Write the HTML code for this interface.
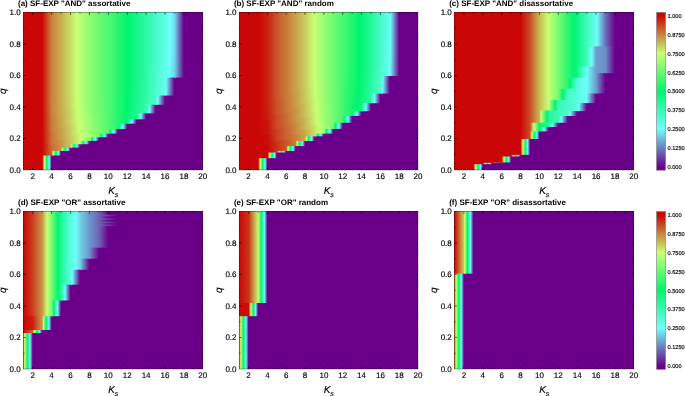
<!DOCTYPE html>
<html><head><meta charset="utf-8"><title>SF-EXP heatmaps</title>
<style>
html,body{margin:0;padding:0;background:#fff;overflow:hidden}
svg{display:block}
text{font-family:"Liberation Sans",sans-serif;fill:#000;stroke:#000;stroke-width:0.15px;text-rendering:geometricPrecision}
.t{font-size:8px}
.k{font-size:10px;font-style:italic}
.b{font-size:8px;font-weight:bold;fill:#000;stroke:none}
.c{font-size:5.7px}
</style></head><body>
<svg width="685" height="396" viewBox="0 0 685 396">
<defs><linearGradient id="g0" gradientUnits="userSpaceOnUse" x1="0" y1="0" x2="1" y2="0"><stop offset="0" stop-color="#cb0606"/><stop offset="1" stop-color="#ca823c"/></linearGradient><linearGradient id="g1" gradientUnits="userSpaceOnUse" x1="0" y1="0" x2="1" y2="0"><stop offset="0" stop-color="#cb0606"/><stop offset="1" stop-color="#ca803b"/></linearGradient><linearGradient id="g2" gradientUnits="userSpaceOnUse" x1="0" y1="0" x2="1" y2="0"><stop offset="0" stop-color="#cb0606"/><stop offset="1" stop-color="#ca7b39"/></linearGradient><linearGradient id="g3" gradientUnits="userSpaceOnUse" x1="0" y1="0" x2="1" y2="0"><stop offset="0" stop-color="#cb0606"/><stop offset="1" stop-color="#ca7436"/></linearGradient><linearGradient id="g4" gradientUnits="userSpaceOnUse" x1="0" y1="0" x2="1" y2="0"><stop offset="0" stop-color="#cb0606"/><stop offset="1" stop-color="#ca6a32"/></linearGradient><linearGradient id="g5" gradientUnits="userSpaceOnUse" x1="0" y1="0" x2="1" y2="0"><stop offset="0" stop-color="#cb0606"/><stop offset="0.25" stop-color="#c8ff73"/><stop offset="0.5" stop-color="#00f56e"/><stop offset="0.75" stop-color="#6efffa"/><stop offset="1" stop-color="#6a0089"/></linearGradient><linearGradient id="g6" gradientUnits="userSpaceOnUse" x1="0" y1="0" x2="1" y2="0"><stop offset="0" stop-color="#ca823c"/><stop offset="1" stop-color="#c9af50"/></linearGradient><linearGradient id="g7" gradientUnits="userSpaceOnUse" x1="0" y1="0" x2="1" y2="0"><stop offset="0" stop-color="#ca823c"/><stop offset="1" stop-color="#c9ac4f"/></linearGradient><linearGradient id="g8" gradientUnits="userSpaceOnUse" x1="0" y1="0" x2="1" y2="0"><stop offset="0" stop-color="#ca803b"/><stop offset="1" stop-color="#c9ac4f"/></linearGradient><linearGradient id="g9" gradientUnits="userSpaceOnUse" x1="0" y1="0" x2="1" y2="0"><stop offset="0" stop-color="#ca803b"/><stop offset="1" stop-color="#c9a74d"/></linearGradient><linearGradient id="g10" gradientUnits="userSpaceOnUse" x1="0" y1="0" x2="1" y2="0"><stop offset="0" stop-color="#ca7b39"/><stop offset="1" stop-color="#c9a74d"/></linearGradient><linearGradient id="g11" gradientUnits="userSpaceOnUse" x1="0" y1="0" x2="1" y2="0"><stop offset="0" stop-color="#ca7b39"/><stop offset="1" stop-color="#c9a04a"/></linearGradient><linearGradient id="g12" gradientUnits="userSpaceOnUse" x1="0" y1="0" x2="1" y2="0"><stop offset="0" stop-color="#ca7436"/><stop offset="1" stop-color="#c9a04a"/></linearGradient><linearGradient id="g13" gradientUnits="userSpaceOnUse" x1="0" y1="0" x2="1" y2="0"><stop offset="0" stop-color="#ca7436"/><stop offset="1" stop-color="#c99645"/></linearGradient><linearGradient id="g14" gradientUnits="userSpaceOnUse" x1="0" y1="0" x2="1" y2="0"><stop offset="0" stop-color="#ca6a32"/><stop offset="1" stop-color="#c99645"/></linearGradient><linearGradient id="g15" gradientUnits="userSpaceOnUse" x1="0" y1="0" x2="1" y2="0"><stop offset="0" stop-color="#ca6a32"/><stop offset="0.167" stop-color="#c8ff73"/><stop offset="0.444" stop-color="#00f56e"/><stop offset="0.722" stop-color="#6efffa"/><stop offset="1" stop-color="#6a0089"/></linearGradient><linearGradient id="g16" gradientUnits="userSpaceOnUse" x1="0" y1="0" x2="1" y2="0"><stop offset="0" stop-color="#c9af50"/><stop offset="1" stop-color="#c8df65"/></linearGradient><linearGradient id="g17" gradientUnits="userSpaceOnUse" x1="0" y1="0" x2="1" y2="0"><stop offset="0" stop-color="#c9af50"/><stop offset="1" stop-color="#c8dc64"/></linearGradient><linearGradient id="g18" gradientUnits="userSpaceOnUse" x1="0" y1="0" x2="1" y2="0"><stop offset="0" stop-color="#c9ac4f"/><stop offset="1" stop-color="#c8dc64"/></linearGradient><linearGradient id="g19" gradientUnits="userSpaceOnUse" x1="0" y1="0" x2="1" y2="0"><stop offset="0" stop-color="#c9ac4f"/><stop offset="1" stop-color="#c8d762"/></linearGradient><linearGradient id="g20" gradientUnits="userSpaceOnUse" x1="0" y1="0" x2="1" y2="0"><stop offset="0" stop-color="#c9a74d"/><stop offset="1" stop-color="#c8d762"/></linearGradient><linearGradient id="g21" gradientUnits="userSpaceOnUse" x1="0" y1="0" x2="1" y2="0"><stop offset="0" stop-color="#c9a74d"/><stop offset="1" stop-color="#c9d05f"/></linearGradient><linearGradient id="g22" gradientUnits="userSpaceOnUse" x1="0" y1="0" x2="1" y2="0"><stop offset="0" stop-color="#c9a04a"/><stop offset="1" stop-color="#c9d05f"/></linearGradient><linearGradient id="g23" gradientUnits="userSpaceOnUse" x1="0" y1="0" x2="1" y2="0"><stop offset="0" stop-color="#c9a04a"/><stop offset="1" stop-color="#c9c65a"/></linearGradient><linearGradient id="g24" gradientUnits="userSpaceOnUse" x1="0" y1="0" x2="1" y2="0"><stop offset="0" stop-color="#c99645"/><stop offset="1" stop-color="#c9c65a"/></linearGradient><linearGradient id="g25" gradientUnits="userSpaceOnUse" x1="0" y1="0" x2="1" y2="0"><stop offset="0" stop-color="#c99645"/><stop offset="0.123" stop-color="#c8ff73"/><stop offset="0.415" stop-color="#00f56e"/><stop offset="0.708" stop-color="#6efffa"/><stop offset="1" stop-color="#6a0089"/></linearGradient><linearGradient id="g26" gradientUnits="userSpaceOnUse" x1="0" y1="0" x2="1" y2="0"><stop offset="0" stop-color="#c8df65"/><stop offset="0.615" stop-color="#c8ff73"/><stop offset="1" stop-color="#b8fe73"/></linearGradient><linearGradient id="g27" gradientUnits="userSpaceOnUse" x1="0" y1="0" x2="1" y2="0"><stop offset="0" stop-color="#c8df65"/><stop offset="0.653" stop-color="#c8ff73"/><stop offset="1" stop-color="#bafe73"/></linearGradient><linearGradient id="g28" gradientUnits="userSpaceOnUse" x1="0" y1="0" x2="1" y2="0"><stop offset="0" stop-color="#c8dc64"/><stop offset="0.673" stop-color="#c8ff73"/><stop offset="1" stop-color="#bafe73"/></linearGradient><linearGradient id="g29" gradientUnits="userSpaceOnUse" x1="0" y1="0" x2="1" y2="0"><stop offset="0" stop-color="#c8dc64"/><stop offset="0.745" stop-color="#c8ff73"/><stop offset="1" stop-color="#beff73"/></linearGradient><linearGradient id="g30" gradientUnits="userSpaceOnUse" x1="0" y1="0" x2="1" y2="0"><stop offset="0" stop-color="#c8d762"/><stop offset="0.769" stop-color="#c8ff73"/><stop offset="1" stop-color="#beff73"/></linearGradient><linearGradient id="g31" gradientUnits="userSpaceOnUse" x1="0" y1="0" x2="1" y2="0"><stop offset="0" stop-color="#c8d762"/><stop offset="0.889" stop-color="#c8ff73"/><stop offset="1" stop-color="#c4ff73"/></linearGradient><linearGradient id="g32" gradientUnits="userSpaceOnUse" x1="0" y1="0" x2="1" y2="0"><stop offset="0" stop-color="#c9d05f"/><stop offset="0.904" stop-color="#c8ff73"/><stop offset="1" stop-color="#c4ff73"/></linearGradient><linearGradient id="g33" gradientUnits="userSpaceOnUse" x1="0" y1="0" x2="1" y2="0"><stop offset="0" stop-color="#c9d05f"/><stop offset="1" stop-color="#c8fa71"/></linearGradient><linearGradient id="g34" gradientUnits="userSpaceOnUse" x1="0" y1="0" x2="1" y2="0"><stop offset="0" stop-color="#c9c65a"/><stop offset="1" stop-color="#c8fa71"/></linearGradient><linearGradient id="g35" gradientUnits="userSpaceOnUse" x1="0" y1="0" x2="1" y2="0"><stop offset="0" stop-color="#c9c65a"/><stop offset="0.0706" stop-color="#c8ff73"/><stop offset="0.38" stop-color="#00f56e"/><stop offset="0.69" stop-color="#6efffa"/><stop offset="1" stop-color="#6a0089"/></linearGradient><linearGradient id="g36" gradientUnits="userSpaceOnUse" x1="0" y1="0" x2="1" y2="0"><stop offset="0" stop-color="#b8fe73"/><stop offset="1" stop-color="#90fc72"/></linearGradient><linearGradient id="g37" gradientUnits="userSpaceOnUse" x1="0" y1="0" x2="1" y2="0"><stop offset="0" stop-color="#b8fe73"/><stop offset="1" stop-color="#92fc72"/></linearGradient><linearGradient id="g38" gradientUnits="userSpaceOnUse" x1="0" y1="0" x2="1" y2="0"><stop offset="0" stop-color="#bafe73"/><stop offset="1" stop-color="#92fc72"/></linearGradient><linearGradient id="g39" gradientUnits="userSpaceOnUse" x1="0" y1="0" x2="1" y2="0"><stop offset="0" stop-color="#bafe73"/><stop offset="1" stop-color="#96fd72"/></linearGradient><linearGradient id="g40" gradientUnits="userSpaceOnUse" x1="0" y1="0" x2="1" y2="0"><stop offset="0" stop-color="#beff73"/><stop offset="1" stop-color="#96fd72"/></linearGradient><linearGradient id="g41" gradientUnits="userSpaceOnUse" x1="0" y1="0" x2="1" y2="0"><stop offset="0" stop-color="#beff73"/><stop offset="1" stop-color="#9cfd72"/></linearGradient><linearGradient id="g42" gradientUnits="userSpaceOnUse" x1="0" y1="0" x2="1" y2="0"><stop offset="0" stop-color="#c4ff73"/><stop offset="1" stop-color="#9cfd72"/></linearGradient><linearGradient id="g43" gradientUnits="userSpaceOnUse" x1="0" y1="0" x2="1" y2="0"><stop offset="0" stop-color="#c4ff73"/><stop offset="1" stop-color="#a4fd72"/></linearGradient><linearGradient id="g44" gradientUnits="userSpaceOnUse" x1="0" y1="0" x2="1" y2="0"><stop offset="0" stop-color="#c8fa71"/><stop offset="0.1" stop-color="#c8ff73"/><stop offset="1" stop-color="#a4fd72"/></linearGradient><linearGradient id="g45" gradientUnits="userSpaceOnUse" x1="0" y1="0" x2="1" y2="0"><stop offset="0" stop-color="#c8fa71"/><stop offset="0.00662" stop-color="#c8ff73"/><stop offset="0.338" stop-color="#00f56e"/><stop offset="0.669" stop-color="#6efffa"/><stop offset="1" stop-color="#6a0089"/></linearGradient><linearGradient id="g46" gradientUnits="userSpaceOnUse" x1="0" y1="0" x2="1" y2="0"><stop offset="0" stop-color="#90fc72"/><stop offset="1" stop-color="#6cfa71"/></linearGradient><linearGradient id="g47" gradientUnits="userSpaceOnUse" x1="0" y1="0" x2="1" y2="0"><stop offset="0" stop-color="#90fc72"/><stop offset="1" stop-color="#6efa71"/></linearGradient><linearGradient id="g48" gradientUnits="userSpaceOnUse" x1="0" y1="0" x2="1" y2="0"><stop offset="0" stop-color="#92fc72"/><stop offset="1" stop-color="#6efa71"/></linearGradient><linearGradient id="g49" gradientUnits="userSpaceOnUse" x1="0" y1="0" x2="1" y2="0"><stop offset="0" stop-color="#92fc72"/><stop offset="1" stop-color="#70fb71"/></linearGradient><linearGradient id="g50" gradientUnits="userSpaceOnUse" x1="0" y1="0" x2="1" y2="0"><stop offset="0" stop-color="#96fd72"/><stop offset="1" stop-color="#70fb71"/></linearGradient><linearGradient id="g51" gradientUnits="userSpaceOnUse" x1="0" y1="0" x2="1" y2="0"><stop offset="0" stop-color="#96fd72"/><stop offset="1" stop-color="#74fb71"/></linearGradient><linearGradient id="g52" gradientUnits="userSpaceOnUse" x1="0" y1="0" x2="1" y2="0"><stop offset="0" stop-color="#9cfd72"/><stop offset="1" stop-color="#74fb71"/></linearGradient><linearGradient id="g53" gradientUnits="userSpaceOnUse" x1="0" y1="0" x2="1" y2="0"><stop offset="0" stop-color="#9cfd72"/><stop offset="1" stop-color="#79fb71"/></linearGradient><linearGradient id="g54" gradientUnits="userSpaceOnUse" x1="0" y1="0" x2="1" y2="0"><stop offset="0" stop-color="#a4fd72"/><stop offset="1" stop-color="#79fb71"/></linearGradient><linearGradient id="g55" gradientUnits="userSpaceOnUse" x1="0" y1="0" x2="1" y2="0"><stop offset="0" stop-color="#a4fd72"/><stop offset="0.291" stop-color="#00f56e"/><stop offset="0.645" stop-color="#6efffa"/><stop offset="1" stop-color="#6a0089"/></linearGradient><linearGradient id="g56" gradientUnits="userSpaceOnUse" x1="0" y1="0" x2="1" y2="0"><stop offset="0" stop-color="#6cfa71"/><stop offset="1" stop-color="#50f970"/></linearGradient><linearGradient id="g57" gradientUnits="userSpaceOnUse" x1="0" y1="0" x2="1" y2="0"><stop offset="0" stop-color="#6cfa71"/><stop offset="1" stop-color="#51f970"/></linearGradient><linearGradient id="g58" gradientUnits="userSpaceOnUse" x1="0" y1="0" x2="1" y2="0"><stop offset="0" stop-color="#6efa71"/><stop offset="1" stop-color="#51f970"/></linearGradient><linearGradient id="g59" gradientUnits="userSpaceOnUse" x1="0" y1="0" x2="1" y2="0"><stop offset="0" stop-color="#6efa71"/><stop offset="1" stop-color="#52f970"/></linearGradient><linearGradient id="g60" gradientUnits="userSpaceOnUse" x1="0" y1="0" x2="1" y2="0"><stop offset="0" stop-color="#70fb71"/><stop offset="1" stop-color="#52f970"/></linearGradient><linearGradient id="g61" gradientUnits="userSpaceOnUse" x1="0" y1="0" x2="1" y2="0"><stop offset="0" stop-color="#70fb71"/><stop offset="1" stop-color="#54f970"/></linearGradient><linearGradient id="g62" gradientUnits="userSpaceOnUse" x1="0" y1="0" x2="1" y2="0"><stop offset="0" stop-color="#74fb71"/><stop offset="1" stop-color="#54f970"/></linearGradient><linearGradient id="g63" gradientUnits="userSpaceOnUse" x1="0" y1="0" x2="1" y2="0"><stop offset="0" stop-color="#74fb71"/><stop offset="1" stop-color="#56f970"/></linearGradient><linearGradient id="g64" gradientUnits="userSpaceOnUse" x1="0" y1="0" x2="1" y2="0"><stop offset="0" stop-color="#79fb71"/><stop offset="1" stop-color="#56f970"/></linearGradient><linearGradient id="g65" gradientUnits="userSpaceOnUse" x1="0" y1="0" x2="1" y2="0"><stop offset="0" stop-color="#79fb71"/><stop offset="0.232" stop-color="#00f56e"/><stop offset="0.616" stop-color="#6efffa"/><stop offset="1" stop-color="#6a0089"/></linearGradient><linearGradient id="g66" gradientUnits="userSpaceOnUse" x1="0" y1="0" x2="1" y2="0"><stop offset="0" stop-color="#50f970"/><stop offset="1" stop-color="#28f76f"/></linearGradient><linearGradient id="g67" gradientUnits="userSpaceOnUse" x1="0" y1="0" x2="1" y2="0"><stop offset="0" stop-color="#51f970"/><stop offset="1" stop-color="#28f76f"/></linearGradient><linearGradient id="g68" gradientUnits="userSpaceOnUse" x1="0" y1="0" x2="1" y2="0"><stop offset="0" stop-color="#52f970"/><stop offset="1" stop-color="#28f76f"/></linearGradient><linearGradient id="g69" gradientUnits="userSpaceOnUse" x1="0" y1="0" x2="1" y2="0"><stop offset="0" stop-color="#54f970"/><stop offset="1" stop-color="#28f76f"/></linearGradient><linearGradient id="g70" gradientUnits="userSpaceOnUse" x1="0" y1="0" x2="1" y2="0"><stop offset="0" stop-color="#56f970"/><stop offset="1" stop-color="#28f76f"/></linearGradient><linearGradient id="g71" gradientUnits="userSpaceOnUse" x1="0" y1="0" x2="1" y2="0"><stop offset="0" stop-color="#56f970"/><stop offset="0.178" stop-color="#00f56e"/><stop offset="0.589" stop-color="#6efffa"/><stop offset="1" stop-color="#6a0089"/></linearGradient><linearGradient id="g72" gradientUnits="userSpaceOnUse" x1="0" y1="0" x2="1" y2="0"><stop offset="0" stop-color="#28f76f"/><stop offset="1" stop-color="#04f56e"/></linearGradient><linearGradient id="g73" gradientUnits="userSpaceOnUse" x1="0" y1="0" x2="1" y2="0"><stop offset="0" stop-color="#28f76f"/><stop offset="1" stop-color="#03f56e"/></linearGradient><linearGradient id="g74" gradientUnits="userSpaceOnUse" x1="0" y1="0" x2="1" y2="0"><stop offset="0" stop-color="#28f76f"/><stop offset="1" stop-color="#02f56e"/></linearGradient><linearGradient id="g75" gradientUnits="userSpaceOnUse" x1="0" y1="0" x2="1" y2="0"><stop offset="0" stop-color="#28f76f"/><stop offset="0.98" stop-color="#00f56e"/><stop offset="1" stop-color="#00f56f"/></linearGradient><linearGradient id="g76" gradientUnits="userSpaceOnUse" x1="0" y1="0" x2="1" y2="0"><stop offset="0" stop-color="#28f76f"/><stop offset="0.909" stop-color="#00f56e"/><stop offset="1" stop-color="#02f571"/></linearGradient><linearGradient id="g77" gradientUnits="userSpaceOnUse" x1="0" y1="0" x2="1" y2="0"><stop offset="0" stop-color="#28f76f"/><stop offset="0.0909" stop-color="#00f56e"/><stop offset="0.545" stop-color="#6efffa"/><stop offset="1" stop-color="#6a0089"/></linearGradient><linearGradient id="g78" gradientUnits="userSpaceOnUse" x1="0" y1="0" x2="1" y2="0"><stop offset="0" stop-color="#04f56e"/><stop offset="0.0909" stop-color="#00f56e"/><stop offset="1" stop-color="#16f78a"/></linearGradient><linearGradient id="g79" gradientUnits="userSpaceOnUse" x1="0" y1="0" x2="1" y2="0"><stop offset="0" stop-color="#04f56e"/><stop offset="0.0893" stop-color="#00f56e"/><stop offset="1" stop-color="#16f78b"/></linearGradient><linearGradient id="g80" gradientUnits="userSpaceOnUse" x1="0" y1="0" x2="1" y2="0"><stop offset="0" stop-color="#03f56e"/><stop offset="0.0727" stop-color="#00f56e"/><stop offset="1" stop-color="#16f78b"/></linearGradient><linearGradient id="g81" gradientUnits="userSpaceOnUse" x1="0" y1="0" x2="1" y2="0"><stop offset="0" stop-color="#03f56e"/><stop offset="0.0702" stop-color="#00f56e"/><stop offset="1" stop-color="#17f78c"/></linearGradient><linearGradient id="g82" gradientUnits="userSpaceOnUse" x1="0" y1="0" x2="1" y2="0"><stop offset="0" stop-color="#02f56e"/><stop offset="0.0364" stop-color="#00f56e"/><stop offset="1" stop-color="#17f78c"/></linearGradient><linearGradient id="g83" gradientUnits="userSpaceOnUse" x1="0" y1="0" x2="1" y2="0"><stop offset="0" stop-color="#02f56e"/><stop offset="0.0345" stop-color="#00f56e"/><stop offset="1" stop-color="#19f78d"/></linearGradient><linearGradient id="g84" gradientUnits="userSpaceOnUse" x1="0" y1="0" x2="1" y2="0"><stop offset="0" stop-color="#00f56f"/><stop offset="1" stop-color="#19f78d"/></linearGradient><linearGradient id="g85" gradientUnits="userSpaceOnUse" x1="0" y1="0" x2="1" y2="0"><stop offset="0" stop-color="#00f56f"/><stop offset="1" stop-color="#1af790"/></linearGradient><linearGradient id="g86" gradientUnits="userSpaceOnUse" x1="0" y1="0" x2="1" y2="0"><stop offset="0" stop-color="#02f571"/><stop offset="1" stop-color="#1af790"/></linearGradient><linearGradient id="g87" gradientUnits="userSpaceOnUse" x1="0" y1="0" x2="1" y2="0"><stop offset="0" stop-color="#02f571"/><stop offset="0.495" stop-color="#6efffa"/><stop offset="1" stop-color="#6a0089"/></linearGradient><linearGradient id="g88" gradientUnits="userSpaceOnUse" x1="0" y1="0" x2="1" y2="0"><stop offset="0" stop-color="#16f78a"/><stop offset="1" stop-color="#2cf9a6"/></linearGradient><linearGradient id="g89" gradientUnits="userSpaceOnUse" x1="0" y1="0" x2="1" y2="0"><stop offset="0" stop-color="#16f78a"/><stop offset="1" stop-color="#2cf9a7"/></linearGradient><linearGradient id="g90" gradientUnits="userSpaceOnUse" x1="0" y1="0" x2="1" y2="0"><stop offset="0" stop-color="#16f78b"/><stop offset="1" stop-color="#2cf9a7"/></linearGradient><linearGradient id="g91" gradientUnits="userSpaceOnUse" x1="0" y1="0" x2="1" y2="0"><stop offset="0" stop-color="#16f78b"/><stop offset="1" stop-color="#2df9a8"/></linearGradient><linearGradient id="g92" gradientUnits="userSpaceOnUse" x1="0" y1="0" x2="1" y2="0"><stop offset="0" stop-color="#17f78c"/><stop offset="1" stop-color="#2df9a8"/></linearGradient><linearGradient id="g93" gradientUnits="userSpaceOnUse" x1="0" y1="0" x2="1" y2="0"><stop offset="0" stop-color="#17f78c"/><stop offset="1" stop-color="#2ff9a9"/></linearGradient><linearGradient id="g94" gradientUnits="userSpaceOnUse" x1="0" y1="0" x2="1" y2="0"><stop offset="0" stop-color="#19f78d"/><stop offset="1" stop-color="#2ff9a9"/></linearGradient><linearGradient id="g95" gradientUnits="userSpaceOnUse" x1="0" y1="0" x2="1" y2="0"><stop offset="0" stop-color="#19f78d"/><stop offset="1" stop-color="#30f9ac"/></linearGradient><linearGradient id="g96" gradientUnits="userSpaceOnUse" x1="0" y1="0" x2="1" y2="0"><stop offset="0" stop-color="#1af790"/><stop offset="1" stop-color="#30f9ac"/></linearGradient><linearGradient id="g97" gradientUnits="userSpaceOnUse" x1="0" y1="0" x2="1" y2="0"><stop offset="0" stop-color="#1af790"/><stop offset="0.432" stop-color="#6efffa"/><stop offset="1" stop-color="#6a0089"/></linearGradient><linearGradient id="g98" gradientUnits="userSpaceOnUse" x1="0" y1="0" x2="1" y2="0"><stop offset="0" stop-color="#2cf9a6"/><stop offset="1" stop-color="#46fbc8"/></linearGradient><linearGradient id="g99" gradientUnits="userSpaceOnUse" x1="0" y1="0" x2="1" y2="0"><stop offset="0" stop-color="#2cf9a6"/><stop offset="1" stop-color="#47fbc8"/></linearGradient><linearGradient id="g100" gradientUnits="userSpaceOnUse" x1="0" y1="0" x2="1" y2="0"><stop offset="0" stop-color="#2cf9a7"/><stop offset="1" stop-color="#47fbc8"/></linearGradient><linearGradient id="g101" gradientUnits="userSpaceOnUse" x1="0" y1="0" x2="1" y2="0"><stop offset="0" stop-color="#2cf9a7"/><stop offset="1" stop-color="#48fcc9"/></linearGradient><linearGradient id="g102" gradientUnits="userSpaceOnUse" x1="0" y1="0" x2="1" y2="0"><stop offset="0" stop-color="#2df9a8"/><stop offset="1" stop-color="#48fcc9"/></linearGradient><linearGradient id="g103" gradientUnits="userSpaceOnUse" x1="0" y1="0" x2="1" y2="0"><stop offset="0" stop-color="#2df9a8"/><stop offset="1" stop-color="#49fccb"/></linearGradient><linearGradient id="g104" gradientUnits="userSpaceOnUse" x1="0" y1="0" x2="1" y2="0"><stop offset="0" stop-color="#2ff9a9"/><stop offset="1" stop-color="#49fccb"/></linearGradient><linearGradient id="g105" gradientUnits="userSpaceOnUse" x1="0" y1="0" x2="1" y2="0"><stop offset="0" stop-color="#2ff9a9"/><stop offset="1" stop-color="#4bfccd"/></linearGradient><linearGradient id="g106" gradientUnits="userSpaceOnUse" x1="0" y1="0" x2="1" y2="0"><stop offset="0" stop-color="#30f9ac"/><stop offset="1" stop-color="#4bfccd"/></linearGradient><linearGradient id="g107" gradientUnits="userSpaceOnUse" x1="0" y1="0" x2="1" y2="0"><stop offset="0" stop-color="#30f9ac"/><stop offset="0.359" stop-color="#6efffa"/><stop offset="1" stop-color="#6a0089"/></linearGradient><linearGradient id="g108" gradientUnits="userSpaceOnUse" x1="0" y1="0" x2="1" y2="0"><stop offset="0" stop-color="#46fbc8"/><stop offset="1" stop-color="#5ffee6"/></linearGradient><linearGradient id="g109" gradientUnits="userSpaceOnUse" x1="0" y1="0" x2="1" y2="0"><stop offset="0" stop-color="#46fbc8"/><stop offset="1" stop-color="#5ffee7"/></linearGradient><linearGradient id="g110" gradientUnits="userSpaceOnUse" x1="0" y1="0" x2="1" y2="0"><stop offset="0" stop-color="#47fbc8"/><stop offset="1" stop-color="#5ffee7"/></linearGradient><linearGradient id="g111" gradientUnits="userSpaceOnUse" x1="0" y1="0" x2="1" y2="0"><stop offset="0" stop-color="#47fbc8"/><stop offset="1" stop-color="#60fee8"/></linearGradient><linearGradient id="g112" gradientUnits="userSpaceOnUse" x1="0" y1="0" x2="1" y2="0"><stop offset="0" stop-color="#48fcc9"/><stop offset="1" stop-color="#60fee8"/></linearGradient><linearGradient id="g113" gradientUnits="userSpaceOnUse" x1="0" y1="0" x2="1" y2="0"><stop offset="0" stop-color="#48fcc9"/><stop offset="1" stop-color="#61feea"/></linearGradient><linearGradient id="g114" gradientUnits="userSpaceOnUse" x1="0" y1="0" x2="1" y2="0"><stop offset="0" stop-color="#49fccb"/><stop offset="1" stop-color="#61feea"/></linearGradient><linearGradient id="g115" gradientUnits="userSpaceOnUse" x1="0" y1="0" x2="1" y2="0"><stop offset="0" stop-color="#49fccb"/><stop offset="1" stop-color="#63feec"/></linearGradient><linearGradient id="g116" gradientUnits="userSpaceOnUse" x1="0" y1="0" x2="1" y2="0"><stop offset="0" stop-color="#4bfccd"/><stop offset="1" stop-color="#63feec"/></linearGradient><linearGradient id="g117" gradientUnits="userSpaceOnUse" x1="0" y1="0" x2="1" y2="0"><stop offset="0" stop-color="#4bfccd"/><stop offset="0.242" stop-color="#6efffa"/><stop offset="1" stop-color="#6a0089"/></linearGradient><linearGradient id="g118" gradientUnits="userSpaceOnUse" x1="0" y1="0" x2="1" y2="0"><stop offset="0" stop-color="#5ffee6"/><stop offset="0.538" stop-color="#6efffa"/><stop offset="1" stop-color="#6ee0ec"/></linearGradient><linearGradient id="g119" gradientUnits="userSpaceOnUse" x1="0" y1="0" x2="1" y2="0"><stop offset="0" stop-color="#5ffee6"/><stop offset="0.53" stop-color="#6efffa"/><stop offset="1" stop-color="#6edfec"/></linearGradient><linearGradient id="g120" gradientUnits="userSpaceOnUse" x1="0" y1="0" x2="1" y2="0"><stop offset="0" stop-color="#5ffee6"/><stop offset="0.515" stop-color="#6efffa"/><stop offset="1" stop-color="#6dddeb"/></linearGradient><linearGradient id="g121" gradientUnits="userSpaceOnUse" x1="0" y1="0" x2="1" y2="0"><stop offset="0" stop-color="#5ffee7"/><stop offset="0.507" stop-color="#6efffa"/><stop offset="1" stop-color="#6dddeb"/></linearGradient><linearGradient id="g122" gradientUnits="userSpaceOnUse" x1="0" y1="0" x2="1" y2="0"><stop offset="0" stop-color="#5ffee7"/><stop offset="0.486" stop-color="#6efffa"/><stop offset="1" stop-color="#6ddaea"/></linearGradient><linearGradient id="g123" gradientUnits="userSpaceOnUse" x1="0" y1="0" x2="1" y2="0"><stop offset="0" stop-color="#60fee8"/><stop offset="0.471" stop-color="#6efffa"/><stop offset="1" stop-color="#6ddaea"/></linearGradient><linearGradient id="g124" gradientUnits="userSpaceOnUse" x1="0" y1="0" x2="1" y2="0"><stop offset="0" stop-color="#60fee8"/><stop offset="0.444" stop-color="#6efffa"/><stop offset="1" stop-color="#6dd6e8"/></linearGradient><linearGradient id="g125" gradientUnits="userSpaceOnUse" x1="0" y1="0" x2="1" y2="0"><stop offset="0" stop-color="#61feea"/><stop offset="0.42" stop-color="#6efffa"/><stop offset="1" stop-color="#6dd6e8"/></linearGradient><linearGradient id="g126" gradientUnits="userSpaceOnUse" x1="0" y1="0" x2="1" y2="0"><stop offset="0" stop-color="#61feea"/><stop offset="0.104" stop-color="#6efffa"/><stop offset="1" stop-color="#6a0089"/></linearGradient><linearGradient id="g127" gradientUnits="userSpaceOnUse" x1="0" y1="0" x2="1" y2="0"><stop offset="0" stop-color="#63feec"/><stop offset="0.0909" stop-color="#6efffa"/><stop offset="1" stop-color="#6a0089"/></linearGradient><linearGradient id="g128" gradientUnits="userSpaceOnUse" x1="0" y1="0" x2="1" y2="0"><stop offset="0" stop-color="#6ee0ec"/><stop offset="1" stop-color="#6a0089"/></linearGradient><linearGradient id="g129" gradientUnits="userSpaceOnUse" x1="0" y1="0" x2="1" y2="0"><stop offset="0" stop-color="#6edfec"/><stop offset="1" stop-color="#6a0089"/></linearGradient><linearGradient id="g130" gradientUnits="userSpaceOnUse" x1="0" y1="0" x2="1" y2="0"><stop offset="0" stop-color="#6dddeb"/><stop offset="1" stop-color="#6a0089"/></linearGradient><linearGradient id="g131" gradientUnits="userSpaceOnUse" x1="0" y1="0" x2="1" y2="0"><stop offset="0" stop-color="#6ddaea"/><stop offset="1" stop-color="#6a0089"/></linearGradient><linearGradient id="g132" gradientUnits="userSpaceOnUse" x1="0" y1="0" x2="1" y2="0"><stop offset="0" stop-color="#6dd6e8"/><stop offset="1" stop-color="#6a0089"/></linearGradient><linearGradient id="g133" gradientUnits="userSpaceOnUse" x1="0" y1="0" x2="1" y2="0"><stop offset="0" stop-color="#cb0606"/><stop offset="1" stop-color="#cb1f11"/></linearGradient><linearGradient id="g134" gradientUnits="userSpaceOnUse" x1="0" y1="0" x2="1" y2="0"><stop offset="0" stop-color="#cb0606"/><stop offset="1" stop-color="#cb1b0f"/></linearGradient><linearGradient id="g135" gradientUnits="userSpaceOnUse" x1="0" y1="0" x2="1" y2="0"><stop offset="0" stop-color="#cb0606"/><stop offset="1" stop-color="#cb130c"/></linearGradient><linearGradient id="g136" gradientUnits="userSpaceOnUse" x1="0" y1="0" x2="1" y2="0"><stop offset="0" stop-color="#cb0606"/><stop offset="1" stop-color="#cb0907"/></linearGradient><linearGradient id="g137" gradientUnits="userSpaceOnUse" x1="0" y1="0" x2="1" y2="0"><stop offset="0" stop-color="#cb1f11"/><stop offset="1" stop-color="#ca5629"/></linearGradient><linearGradient id="g138" gradientUnits="userSpaceOnUse" x1="0" y1="0" x2="1" y2="0"><stop offset="0" stop-color="#cb1f11"/><stop offset="1" stop-color="#ca5227"/></linearGradient><linearGradient id="g139" gradientUnits="userSpaceOnUse" x1="0" y1="0" x2="1" y2="0"><stop offset="0" stop-color="#cb1b0f"/><stop offset="1" stop-color="#ca5227"/></linearGradient><linearGradient id="g140" gradientUnits="userSpaceOnUse" x1="0" y1="0" x2="1" y2="0"><stop offset="0" stop-color="#cb1b0f"/><stop offset="1" stop-color="#ca4a24"/></linearGradient><linearGradient id="g141" gradientUnits="userSpaceOnUse" x1="0" y1="0" x2="1" y2="0"><stop offset="0" stop-color="#cb130c"/><stop offset="1" stop-color="#ca4a24"/></linearGradient><linearGradient id="g142" gradientUnits="userSpaceOnUse" x1="0" y1="0" x2="1" y2="0"><stop offset="0" stop-color="#cb130c"/><stop offset="1" stop-color="#ca3f1f"/></linearGradient><linearGradient id="g143" gradientUnits="userSpaceOnUse" x1="0" y1="0" x2="1" y2="0"><stop offset="0" stop-color="#cb0907"/><stop offset="1" stop-color="#ca3f1f"/></linearGradient><linearGradient id="g144" gradientUnits="userSpaceOnUse" x1="0" y1="0" x2="1" y2="0"><stop offset="0" stop-color="#cb0907"/><stop offset="1" stop-color="#ca3119"/></linearGradient><linearGradient id="g145" gradientUnits="userSpaceOnUse" x1="0" y1="0" x2="1" y2="0"><stop offset="0" stop-color="#cb0606"/><stop offset="1" stop-color="#ca3119"/></linearGradient><linearGradient id="g146" gradientUnits="userSpaceOnUse" x1="0" y1="0" x2="1" y2="0"><stop offset="0" stop-color="#ca5629"/><stop offset="1" stop-color="#ca7938"/></linearGradient><linearGradient id="g147" gradientUnits="userSpaceOnUse" x1="0" y1="0" x2="1" y2="0"><stop offset="0" stop-color="#ca5629"/><stop offset="1" stop-color="#ca7536"/></linearGradient><linearGradient id="g148" gradientUnits="userSpaceOnUse" x1="0" y1="0" x2="1" y2="0"><stop offset="0" stop-color="#ca5227"/><stop offset="1" stop-color="#ca7536"/></linearGradient><linearGradient id="g149" gradientUnits="userSpaceOnUse" x1="0" y1="0" x2="1" y2="0"><stop offset="0" stop-color="#ca5227"/><stop offset="1" stop-color="#ca6d33"/></linearGradient><linearGradient id="g150" gradientUnits="userSpaceOnUse" x1="0" y1="0" x2="1" y2="0"><stop offset="0" stop-color="#ca4a24"/><stop offset="1" stop-color="#ca6d33"/></linearGradient><linearGradient id="g151" gradientUnits="userSpaceOnUse" x1="0" y1="0" x2="1" y2="0"><stop offset="0" stop-color="#ca4a24"/><stop offset="1" stop-color="#ca632f"/></linearGradient><linearGradient id="g152" gradientUnits="userSpaceOnUse" x1="0" y1="0" x2="1" y2="0"><stop offset="0" stop-color="#ca3f1f"/><stop offset="1" stop-color="#ca632f"/></linearGradient><linearGradient id="g153" gradientUnits="userSpaceOnUse" x1="0" y1="0" x2="1" y2="0"><stop offset="0" stop-color="#ca3f1f"/><stop offset="1" stop-color="#ca5428"/></linearGradient><linearGradient id="g154" gradientUnits="userSpaceOnUse" x1="0" y1="0" x2="1" y2="0"><stop offset="0" stop-color="#ca3119"/><stop offset="1" stop-color="#ca5428"/></linearGradient><linearGradient id="g155" gradientUnits="userSpaceOnUse" x1="0" y1="0" x2="1" y2="0"><stop offset="0" stop-color="#ca3119"/><stop offset="0.216" stop-color="#c8ff73"/><stop offset="0.478" stop-color="#00f56e"/><stop offset="0.739" stop-color="#6efffa"/><stop offset="1" stop-color="#6a0089"/></linearGradient><linearGradient id="g156" gradientUnits="userSpaceOnUse" x1="0" y1="0" x2="1" y2="0"><stop offset="0" stop-color="#ca7938"/><stop offset="1" stop-color="#c9a04a"/></linearGradient><linearGradient id="g157" gradientUnits="userSpaceOnUse" x1="0" y1="0" x2="1" y2="0"><stop offset="0" stop-color="#ca7938"/><stop offset="1" stop-color="#c99c48"/></linearGradient><linearGradient id="g158" gradientUnits="userSpaceOnUse" x1="0" y1="0" x2="1" y2="0"><stop offset="0" stop-color="#ca7536"/><stop offset="1" stop-color="#c99c48"/></linearGradient><linearGradient id="g159" gradientUnits="userSpaceOnUse" x1="0" y1="0" x2="1" y2="0"><stop offset="0" stop-color="#ca7536"/><stop offset="1" stop-color="#c99444"/></linearGradient><linearGradient id="g160" gradientUnits="userSpaceOnUse" x1="0" y1="0" x2="1" y2="0"><stop offset="0" stop-color="#ca6d33"/><stop offset="1" stop-color="#c99444"/></linearGradient><linearGradient id="g161" gradientUnits="userSpaceOnUse" x1="0" y1="0" x2="1" y2="0"><stop offset="0" stop-color="#ca6d33"/><stop offset="1" stop-color="#c98a40"/></linearGradient><linearGradient id="g162" gradientUnits="userSpaceOnUse" x1="0" y1="0" x2="1" y2="0"><stop offset="0" stop-color="#ca632f"/><stop offset="1" stop-color="#c98a40"/></linearGradient><linearGradient id="g163" gradientUnits="userSpaceOnUse" x1="0" y1="0" x2="1" y2="0"><stop offset="0" stop-color="#ca632f"/><stop offset="1" stop-color="#ca7c39"/></linearGradient><linearGradient id="g164" gradientUnits="userSpaceOnUse" x1="0" y1="0" x2="1" y2="0"><stop offset="0" stop-color="#ca5428"/><stop offset="1" stop-color="#ca7c39"/></linearGradient><linearGradient id="g165" gradientUnits="userSpaceOnUse" x1="0" y1="0" x2="1" y2="0"><stop offset="0" stop-color="#ca5428"/><stop offset="0.187" stop-color="#c8ff73"/><stop offset="0.458" stop-color="#00f56e"/><stop offset="0.729" stop-color="#6efffa"/><stop offset="1" stop-color="#6a0089"/></linearGradient><linearGradient id="g166" gradientUnits="userSpaceOnUse" x1="0" y1="0" x2="1" y2="0"><stop offset="0" stop-color="#c9a04a"/><stop offset="1" stop-color="#c9cd5d"/></linearGradient><linearGradient id="g167" gradientUnits="userSpaceOnUse" x1="0" y1="0" x2="1" y2="0"><stop offset="0" stop-color="#c9a04a"/><stop offset="1" stop-color="#c9c95b"/></linearGradient><linearGradient id="g168" gradientUnits="userSpaceOnUse" x1="0" y1="0" x2="1" y2="0"><stop offset="0" stop-color="#c99c48"/><stop offset="1" stop-color="#c9c95b"/></linearGradient><linearGradient id="g169" gradientUnits="userSpaceOnUse" x1="0" y1="0" x2="1" y2="0"><stop offset="0" stop-color="#c99c48"/><stop offset="1" stop-color="#c9c158"/></linearGradient><linearGradient id="g170" gradientUnits="userSpaceOnUse" x1="0" y1="0" x2="1" y2="0"><stop offset="0" stop-color="#c99444"/><stop offset="1" stop-color="#c9c158"/></linearGradient><linearGradient id="g171" gradientUnits="userSpaceOnUse" x1="0" y1="0" x2="1" y2="0"><stop offset="0" stop-color="#c99444"/><stop offset="1" stop-color="#c9b653"/></linearGradient><linearGradient id="g172" gradientUnits="userSpaceOnUse" x1="0" y1="0" x2="1" y2="0"><stop offset="0" stop-color="#c98a40"/><stop offset="1" stop-color="#c9b653"/></linearGradient><linearGradient id="g173" gradientUnits="userSpaceOnUse" x1="0" y1="0" x2="1" y2="0"><stop offset="0" stop-color="#c98a40"/><stop offset="1" stop-color="#c9a84d"/></linearGradient><linearGradient id="g174" gradientUnits="userSpaceOnUse" x1="0" y1="0" x2="1" y2="0"><stop offset="0" stop-color="#ca7c39"/><stop offset="1" stop-color="#c9a84d"/></linearGradient><linearGradient id="g175" gradientUnits="userSpaceOnUse" x1="0" y1="0" x2="1" y2="0"><stop offset="0" stop-color="#ca7c39"/><stop offset="0.15" stop-color="#c8ff73"/><stop offset="0.433" stop-color="#00f56e"/><stop offset="0.717" stop-color="#6efffa"/><stop offset="1" stop-color="#6a0089"/></linearGradient><linearGradient id="g176" gradientUnits="userSpaceOnUse" x1="0" y1="0" x2="1" y2="0"><stop offset="0" stop-color="#c9cd5d"/><stop offset="1" stop-color="#c8ff73"/></linearGradient><linearGradient id="g177" gradientUnits="userSpaceOnUse" x1="0" y1="0" x2="1" y2="0"><stop offset="0" stop-color="#c9cd5d"/><stop offset="1" stop-color="#c8fc72"/></linearGradient><linearGradient id="g178" gradientUnits="userSpaceOnUse" x1="0" y1="0" x2="1" y2="0"><stop offset="0" stop-color="#c9c95b"/><stop offset="1" stop-color="#c8fc72"/></linearGradient><linearGradient id="g179" gradientUnits="userSpaceOnUse" x1="0" y1="0" x2="1" y2="0"><stop offset="0" stop-color="#c9c95b"/><stop offset="1" stop-color="#c8f66f"/></linearGradient><linearGradient id="g180" gradientUnits="userSpaceOnUse" x1="0" y1="0" x2="1" y2="0"><stop offset="0" stop-color="#c9c158"/><stop offset="1" stop-color="#c8f66f"/></linearGradient><linearGradient id="g181" gradientUnits="userSpaceOnUse" x1="0" y1="0" x2="1" y2="0"><stop offset="0" stop-color="#c9c158"/><stop offset="1" stop-color="#c8ee6c"/></linearGradient><linearGradient id="g182" gradientUnits="userSpaceOnUse" x1="0" y1="0" x2="1" y2="0"><stop offset="0" stop-color="#c9b653"/><stop offset="1" stop-color="#c8ee6c"/></linearGradient><linearGradient id="g183" gradientUnits="userSpaceOnUse" x1="0" y1="0" x2="1" y2="0"><stop offset="0" stop-color="#c9b653"/><stop offset="1" stop-color="#c8e266"/></linearGradient><linearGradient id="g184" gradientUnits="userSpaceOnUse" x1="0" y1="0" x2="1" y2="0"><stop offset="0" stop-color="#c9a84d"/><stop offset="1" stop-color="#c8e266"/></linearGradient><linearGradient id="g185" gradientUnits="userSpaceOnUse" x1="0" y1="0" x2="1" y2="0"><stop offset="0" stop-color="#c9a84d"/><stop offset="0.104" stop-color="#c8ff73"/><stop offset="0.403" stop-color="#00f56e"/><stop offset="0.701" stop-color="#6efffa"/><stop offset="1" stop-color="#6a0089"/></linearGradient><linearGradient id="g186" gradientUnits="userSpaceOnUse" x1="0" y1="0" x2="1" y2="0"><stop offset="0" stop-color="#c8ff73"/><stop offset="1" stop-color="#98fd72"/></linearGradient><linearGradient id="g187" gradientUnits="userSpaceOnUse" x1="0" y1="0" x2="1" y2="0"><stop offset="0" stop-color="#c8ff73"/><stop offset="1" stop-color="#9afd72"/></linearGradient><linearGradient id="g188" gradientUnits="userSpaceOnUse" x1="0" y1="0" x2="1" y2="0"><stop offset="0" stop-color="#c8fc72"/><stop offset="0.0492" stop-color="#c8ff73"/><stop offset="1" stop-color="#9afd72"/></linearGradient><linearGradient id="g189" gradientUnits="userSpaceOnUse" x1="0" y1="0" x2="1" y2="0"><stop offset="0" stop-color="#c8fc72"/><stop offset="0.0517" stop-color="#c8ff73"/><stop offset="1" stop-color="#9cfd72"/></linearGradient><linearGradient id="g190" gradientUnits="userSpaceOnUse" x1="0" y1="0" x2="1" y2="0"><stop offset="0" stop-color="#c8f66f"/><stop offset="0.141" stop-color="#c8ff73"/><stop offset="1" stop-color="#9cfd72"/></linearGradient><linearGradient id="g191" gradientUnits="userSpaceOnUse" x1="0" y1="0" x2="1" y2="0"><stop offset="0" stop-color="#c8f66f"/><stop offset="0.153" stop-color="#c8ff73"/><stop offset="1" stop-color="#a0fd72"/></linearGradient><linearGradient id="g192" gradientUnits="userSpaceOnUse" x1="0" y1="0" x2="1" y2="0"><stop offset="0" stop-color="#c8ee6c"/><stop offset="0.254" stop-color="#c8ff73"/><stop offset="1" stop-color="#a0fd72"/></linearGradient><linearGradient id="g193" gradientUnits="userSpaceOnUse" x1="0" y1="0" x2="1" y2="0"><stop offset="0" stop-color="#c8ee6c"/><stop offset="0.279" stop-color="#c8ff73"/><stop offset="1" stop-color="#a5fd72"/></linearGradient><linearGradient id="g194" gradientUnits="userSpaceOnUse" x1="0" y1="0" x2="1" y2="0"><stop offset="0" stop-color="#c8e266"/><stop offset="0.397" stop-color="#c8ff73"/><stop offset="1" stop-color="#a5fd72"/></linearGradient><linearGradient id="g195" gradientUnits="userSpaceOnUse" x1="0" y1="0" x2="1" y2="0"><stop offset="0" stop-color="#c8e266"/><stop offset="0.0372" stop-color="#c8ff73"/><stop offset="0.358" stop-color="#00f56e"/><stop offset="0.679" stop-color="#6efffa"/><stop offset="1" stop-color="#6a0089"/></linearGradient><linearGradient id="g196" gradientUnits="userSpaceOnUse" x1="0" y1="0" x2="1" y2="0"><stop offset="0" stop-color="#98fd72"/><stop offset="1" stop-color="#70fb71"/></linearGradient><linearGradient id="g197" gradientUnits="userSpaceOnUse" x1="0" y1="0" x2="1" y2="0"><stop offset="0" stop-color="#9afd72"/><stop offset="1" stop-color="#70fb71"/></linearGradient><linearGradient id="g198" gradientUnits="userSpaceOnUse" x1="0" y1="0" x2="1" y2="0"><stop offset="0" stop-color="#9afd72"/><stop offset="1" stop-color="#71fb71"/></linearGradient><linearGradient id="g199" gradientUnits="userSpaceOnUse" x1="0" y1="0" x2="1" y2="0"><stop offset="0" stop-color="#9cfd72"/><stop offset="1" stop-color="#71fb71"/></linearGradient><linearGradient id="g200" gradientUnits="userSpaceOnUse" x1="0" y1="0" x2="1" y2="0"><stop offset="0" stop-color="#9cfd72"/><stop offset="1" stop-color="#72fb71"/></linearGradient><linearGradient id="g201" gradientUnits="userSpaceOnUse" x1="0" y1="0" x2="1" y2="0"><stop offset="0" stop-color="#a0fd72"/><stop offset="1" stop-color="#72fb71"/></linearGradient><linearGradient id="g202" gradientUnits="userSpaceOnUse" x1="0" y1="0" x2="1" y2="0"><stop offset="0" stop-color="#a0fd72"/><stop offset="1" stop-color="#73fb71"/></linearGradient><linearGradient id="g203" gradientUnits="userSpaceOnUse" x1="0" y1="0" x2="1" y2="0"><stop offset="0" stop-color="#a5fd72"/><stop offset="1" stop-color="#73fb71"/></linearGradient><linearGradient id="g204" gradientUnits="userSpaceOnUse" x1="0" y1="0" x2="1" y2="0"><stop offset="0" stop-color="#a5fd72"/><stop offset="0.292" stop-color="#00f56e"/><stop offset="0.646" stop-color="#6efffa"/><stop offset="1" stop-color="#6a0089"/></linearGradient><linearGradient id="g205" gradientUnits="userSpaceOnUse" x1="0" y1="0" x2="1" y2="0"><stop offset="0" stop-color="#70fb71"/><stop offset="1" stop-color="#48f970"/></linearGradient><linearGradient id="g206" gradientUnits="userSpaceOnUse" x1="0" y1="0" x2="1" y2="0"><stop offset="0" stop-color="#70fb71"/><stop offset="1" stop-color="#47f970"/></linearGradient><linearGradient id="g207" gradientUnits="userSpaceOnUse" x1="0" y1="0" x2="1" y2="0"><stop offset="0" stop-color="#70fb71"/><stop offset="1" stop-color="#46f870"/></linearGradient><linearGradient id="g208" gradientUnits="userSpaceOnUse" x1="0" y1="0" x2="1" y2="0"><stop offset="0" stop-color="#71fb71"/><stop offset="1" stop-color="#46f870"/></linearGradient><linearGradient id="g209" gradientUnits="userSpaceOnUse" x1="0" y1="0" x2="1" y2="0"><stop offset="0" stop-color="#71fb71"/><stop offset="1" stop-color="#44f870"/></linearGradient><linearGradient id="g210" gradientUnits="userSpaceOnUse" x1="0" y1="0" x2="1" y2="0"><stop offset="0" stop-color="#72fb71"/><stop offset="1" stop-color="#44f870"/></linearGradient><linearGradient id="g211" gradientUnits="userSpaceOnUse" x1="0" y1="0" x2="1" y2="0"><stop offset="0" stop-color="#72fb71"/><stop offset="1" stop-color="#42f870"/></linearGradient><linearGradient id="g212" gradientUnits="userSpaceOnUse" x1="0" y1="0" x2="1" y2="0"><stop offset="0" stop-color="#73fb71"/><stop offset="1" stop-color="#42f870"/></linearGradient><linearGradient id="g213" gradientUnits="userSpaceOnUse" x1="0" y1="0" x2="1" y2="0"><stop offset="0" stop-color="#73fb71"/><stop offset="0.224" stop-color="#00f56e"/><stop offset="0.612" stop-color="#6efffa"/><stop offset="1" stop-color="#6a0089"/></linearGradient><linearGradient id="g214" gradientUnits="userSpaceOnUse" x1="0" y1="0" x2="1" y2="0"><stop offset="0" stop-color="#48f970"/><stop offset="1" stop-color="#20f76f"/></linearGradient><linearGradient id="g215" gradientUnits="userSpaceOnUse" x1="0" y1="0" x2="1" y2="0"><stop offset="0" stop-color="#48f970"/><stop offset="1" stop-color="#1ef76f"/></linearGradient><linearGradient id="g216" gradientUnits="userSpaceOnUse" x1="0" y1="0" x2="1" y2="0"><stop offset="0" stop-color="#47f970"/><stop offset="1" stop-color="#1ef76f"/></linearGradient><linearGradient id="g217" gradientUnits="userSpaceOnUse" x1="0" y1="0" x2="1" y2="0"><stop offset="0" stop-color="#47f970"/><stop offset="1" stop-color="#1cf66f"/></linearGradient><linearGradient id="g218" gradientUnits="userSpaceOnUse" x1="0" y1="0" x2="1" y2="0"><stop offset="0" stop-color="#46f870"/><stop offset="1" stop-color="#1cf66f"/></linearGradient><linearGradient id="g219" gradientUnits="userSpaceOnUse" x1="0" y1="0" x2="1" y2="0"><stop offset="0" stop-color="#46f870"/><stop offset="1" stop-color="#18f66f"/></linearGradient><linearGradient id="g220" gradientUnits="userSpaceOnUse" x1="0" y1="0" x2="1" y2="0"><stop offset="0" stop-color="#44f870"/><stop offset="1" stop-color="#18f66f"/></linearGradient><linearGradient id="g221" gradientUnits="userSpaceOnUse" x1="0" y1="0" x2="1" y2="0"><stop offset="0" stop-color="#44f870"/><stop offset="1" stop-color="#13f66e"/></linearGradient><linearGradient id="g222" gradientUnits="userSpaceOnUse" x1="0" y1="0" x2="1" y2="0"><stop offset="0" stop-color="#42f870"/><stop offset="1" stop-color="#13f66e"/></linearGradient><linearGradient id="g223" gradientUnits="userSpaceOnUse" x1="0" y1="0" x2="1" y2="0"><stop offset="0" stop-color="#42f870"/><stop offset="0.141" stop-color="#00f56e"/><stop offset="0.57" stop-color="#6efffa"/><stop offset="1" stop-color="#6a0089"/></linearGradient><linearGradient id="g224" gradientUnits="userSpaceOnUse" x1="0" y1="0" x2="1" y2="0"><stop offset="0" stop-color="#20f76f"/><stop offset="0.8" stop-color="#00f56e"/><stop offset="1" stop-color="#04f574"/></linearGradient><linearGradient id="g225" gradientUnits="userSpaceOnUse" x1="0" y1="0" x2="1" y2="0"><stop offset="0" stop-color="#20f76f"/><stop offset="0.769" stop-color="#00f56e"/><stop offset="1" stop-color="#05f575"/></linearGradient><linearGradient id="g226" gradientUnits="userSpaceOnUse" x1="0" y1="0" x2="1" y2="0"><stop offset="0" stop-color="#1ef76f"/><stop offset="0.76" stop-color="#00f56e"/><stop offset="1" stop-color="#05f575"/></linearGradient><linearGradient id="g227" gradientUnits="userSpaceOnUse" x1="0" y1="0" x2="1" y2="0"><stop offset="0" stop-color="#1ef76f"/><stop offset="0.717" stop-color="#00f56e"/><stop offset="1" stop-color="#07f676"/></linearGradient><linearGradient id="g228" gradientUnits="userSpaceOnUse" x1="0" y1="0" x2="1" y2="0"><stop offset="0" stop-color="#1cf66f"/><stop offset="0.7" stop-color="#00f56e"/><stop offset="1" stop-color="#07f676"/></linearGradient><linearGradient id="g229" gradientUnits="userSpaceOnUse" x1="0" y1="0" x2="1" y2="0"><stop offset="0" stop-color="#1cf66f"/><stop offset="0.636" stop-color="#00f56e"/><stop offset="1" stop-color="#09f679"/></linearGradient><linearGradient id="g230" gradientUnits="userSpaceOnUse" x1="0" y1="0" x2="1" y2="0"><stop offset="0" stop-color="#18f66f"/><stop offset="0.6" stop-color="#00f56e"/><stop offset="1" stop-color="#09f679"/></linearGradient><linearGradient id="g231" gradientUnits="userSpaceOnUse" x1="0" y1="0" x2="1" y2="0"><stop offset="0" stop-color="#18f66f"/><stop offset="0.536" stop-color="#00f56e"/><stop offset="1" stop-color="#0bf67d"/></linearGradient><linearGradient id="g232" gradientUnits="userSpaceOnUse" x1="0" y1="0" x2="1" y2="0"><stop offset="0" stop-color="#13f66e"/><stop offset="0.48" stop-color="#00f56e"/><stop offset="1" stop-color="#0bf67d"/></linearGradient><linearGradient id="g233" gradientUnits="userSpaceOnUse" x1="0" y1="0" x2="1" y2="0"><stop offset="0" stop-color="#13f66e"/><stop offset="0.0458" stop-color="#00f56e"/><stop offset="0.523" stop-color="#6efffa"/><stop offset="1" stop-color="#6a0089"/></linearGradient><linearGradient id="g234" gradientUnits="userSpaceOnUse" x1="0" y1="0" x2="1" y2="0"><stop offset="0" stop-color="#04f574"/><stop offset="1" stop-color="#23f89b"/></linearGradient><linearGradient id="g235" gradientUnits="userSpaceOnUse" x1="0" y1="0" x2="1" y2="0"><stop offset="0" stop-color="#04f574"/><stop offset="1" stop-color="#24f89c"/></linearGradient><linearGradient id="g236" gradientUnits="userSpaceOnUse" x1="0" y1="0" x2="1" y2="0"><stop offset="0" stop-color="#05f575"/><stop offset="1" stop-color="#24f89c"/></linearGradient><linearGradient id="g237" gradientUnits="userSpaceOnUse" x1="0" y1="0" x2="1" y2="0"><stop offset="0" stop-color="#05f575"/><stop offset="1" stop-color="#25f89e"/></linearGradient><linearGradient id="g238" gradientUnits="userSpaceOnUse" x1="0" y1="0" x2="1" y2="0"><stop offset="0" stop-color="#07f676"/><stop offset="1" stop-color="#25f89e"/></linearGradient><linearGradient id="g239" gradientUnits="userSpaceOnUse" x1="0" y1="0" x2="1" y2="0"><stop offset="0" stop-color="#07f676"/><stop offset="1" stop-color="#28f9a0"/></linearGradient><linearGradient id="g240" gradientUnits="userSpaceOnUse" x1="0" y1="0" x2="1" y2="0"><stop offset="0" stop-color="#09f679"/><stop offset="1" stop-color="#28f9a0"/></linearGradient><linearGradient id="g241" gradientUnits="userSpaceOnUse" x1="0" y1="0" x2="1" y2="0"><stop offset="0" stop-color="#09f679"/><stop offset="1" stop-color="#2af9a4"/></linearGradient><linearGradient id="g242" gradientUnits="userSpaceOnUse" x1="0" y1="0" x2="1" y2="0"><stop offset="0" stop-color="#0bf67d"/><stop offset="1" stop-color="#2af9a4"/></linearGradient><linearGradient id="g243" gradientUnits="userSpaceOnUse" x1="0" y1="0" x2="1" y2="0"><stop offset="0" stop-color="#0bf67d"/><stop offset="0.473" stop-color="#6efffa"/><stop offset="1" stop-color="#6a0089"/></linearGradient><linearGradient id="g244" gradientUnits="userSpaceOnUse" x1="0" y1="0" x2="1" y2="0"><stop offset="0" stop-color="#23f89b"/><stop offset="1" stop-color="#44fbc5"/></linearGradient><linearGradient id="g245" gradientUnits="userSpaceOnUse" x1="0" y1="0" x2="1" y2="0"><stop offset="0" stop-color="#23f89b"/><stop offset="1" stop-color="#45fbc6"/></linearGradient><linearGradient id="g246" gradientUnits="userSpaceOnUse" x1="0" y1="0" x2="1" y2="0"><stop offset="0" stop-color="#24f89c"/><stop offset="1" stop-color="#45fbc6"/></linearGradient><linearGradient id="g247" gradientUnits="userSpaceOnUse" x1="0" y1="0" x2="1" y2="0"><stop offset="0" stop-color="#24f89c"/><stop offset="1" stop-color="#46fbc8"/></linearGradient><linearGradient id="g248" gradientUnits="userSpaceOnUse" x1="0" y1="0" x2="1" y2="0"><stop offset="0" stop-color="#25f89e"/><stop offset="1" stop-color="#46fbc8"/></linearGradient><linearGradient id="g249" gradientUnits="userSpaceOnUse" x1="0" y1="0" x2="1" y2="0"><stop offset="0" stop-color="#25f89e"/><stop offset="1" stop-color="#49fcca"/></linearGradient><linearGradient id="g250" gradientUnits="userSpaceOnUse" x1="0" y1="0" x2="1" y2="0"><stop offset="0" stop-color="#28f9a0"/><stop offset="1" stop-color="#49fcca"/></linearGradient><linearGradient id="g251" gradientUnits="userSpaceOnUse" x1="0" y1="0" x2="1" y2="0"><stop offset="0" stop-color="#28f9a0"/><stop offset="1" stop-color="#4bfcce"/></linearGradient><linearGradient id="g252" gradientUnits="userSpaceOnUse" x1="0" y1="0" x2="1" y2="0"><stop offset="0" stop-color="#2af9a4"/><stop offset="1" stop-color="#4bfcce"/></linearGradient><linearGradient id="g253" gradientUnits="userSpaceOnUse" x1="0" y1="0" x2="1" y2="0"><stop offset="0" stop-color="#2af9a4"/><stop offset="0.381" stop-color="#6efffa"/><stop offset="1" stop-color="#6a0089"/></linearGradient><linearGradient id="g254" gradientUnits="userSpaceOnUse" x1="0" y1="0" x2="1" y2="0"><stop offset="0" stop-color="#44fbc5"/><stop offset="1" stop-color="#65feef"/></linearGradient><linearGradient id="g255" gradientUnits="userSpaceOnUse" x1="0" y1="0" x2="1" y2="0"><stop offset="0" stop-color="#44fbc5"/><stop offset="1" stop-color="#66fef0"/></linearGradient><linearGradient id="g256" gradientUnits="userSpaceOnUse" x1="0" y1="0" x2="1" y2="0"><stop offset="0" stop-color="#44fbc5"/><stop offset="1" stop-color="#67fef2"/></linearGradient><linearGradient id="g257" gradientUnits="userSpaceOnUse" x1="0" y1="0" x2="1" y2="0"><stop offset="0" stop-color="#45fbc6"/><stop offset="1" stop-color="#67fef2"/></linearGradient><linearGradient id="g258" gradientUnits="userSpaceOnUse" x1="0" y1="0" x2="1" y2="0"><stop offset="0" stop-color="#45fbc6"/><stop offset="1" stop-color="#6afff4"/></linearGradient><linearGradient id="g259" gradientUnits="userSpaceOnUse" x1="0" y1="0" x2="1" y2="0"><stop offset="0" stop-color="#46fbc8"/><stop offset="1" stop-color="#6afff4"/></linearGradient><linearGradient id="g260" gradientUnits="userSpaceOnUse" x1="0" y1="0" x2="1" y2="0"><stop offset="0" stop-color="#46fbc8"/><stop offset="1" stop-color="#6cfff8"/></linearGradient><linearGradient id="g261" gradientUnits="userSpaceOnUse" x1="0" y1="0" x2="1" y2="0"><stop offset="0" stop-color="#49fcca"/><stop offset="1" stop-color="#6cfff8"/></linearGradient><linearGradient id="g262" gradientUnits="userSpaceOnUse" x1="0" y1="0" x2="1" y2="0"><stop offset="0" stop-color="#49fcca"/><stop offset="0.254" stop-color="#6efffa"/><stop offset="1" stop-color="#6a0089"/></linearGradient><linearGradient id="g263" gradientUnits="userSpaceOnUse" x1="0" y1="0" x2="1" y2="0"><stop offset="0" stop-color="#4bfcce"/><stop offset="0.24" stop-color="#6efffa"/><stop offset="1" stop-color="#6a0089"/></linearGradient><linearGradient id="g264" gradientUnits="userSpaceOnUse" x1="0" y1="0" x2="1" y2="0"><stop offset="0" stop-color="#65feef"/><stop offset="0.0741" stop-color="#6efffa"/><stop offset="1" stop-color="#6a0089"/></linearGradient><linearGradient id="g265" gradientUnits="userSpaceOnUse" x1="0" y1="0" x2="1" y2="0"><stop offset="0" stop-color="#66fef0"/><stop offset="0.0672" stop-color="#6efffa"/><stop offset="1" stop-color="#6a0089"/></linearGradient><linearGradient id="g266" gradientUnits="userSpaceOnUse" x1="0" y1="0" x2="1" y2="0"><stop offset="0" stop-color="#67fef2"/><stop offset="0.0566" stop-color="#6efffa"/><stop offset="1" stop-color="#6a0089"/></linearGradient><linearGradient id="g267" gradientUnits="userSpaceOnUse" x1="0" y1="0" x2="1" y2="0"><stop offset="0" stop-color="#6afff4"/><stop offset="0.0385" stop-color="#6efffa"/><stop offset="1" stop-color="#6a0089"/></linearGradient><linearGradient id="g268" gradientUnits="userSpaceOnUse" x1="0" y1="0" x2="1" y2="0"><stop offset="0" stop-color="#6cfff8"/><stop offset="0.0157" stop-color="#6efffa"/><stop offset="1" stop-color="#6a0089"/></linearGradient><linearGradient id="g269" gradientUnits="userSpaceOnUse" x1="0" y1="0" x2="1" y2="0"><stop offset="0" stop-color="#cb0606"/><stop offset="1" stop-color="#ca4c25"/></linearGradient><linearGradient id="g270" gradientUnits="userSpaceOnUse" x1="0" y1="0" x2="1" y2="0"><stop offset="0" stop-color="#ca4c25"/><stop offset="1" stop-color="#c9b954"/></linearGradient><linearGradient id="g271" gradientUnits="userSpaceOnUse" x1="0" y1="0" x2="1" y2="0"><stop offset="0" stop-color="#ca4c25"/><stop offset="0.419" stop-color="#c8ff73"/><stop offset="1" stop-color="#00f56e"/></linearGradient><linearGradient id="g272" gradientUnits="userSpaceOnUse" x1="0" y1="0" x2="1" y2="0"><stop offset="0" stop-color="#ca4c25"/><stop offset="0.194" stop-color="#c8ff73"/><stop offset="0.462" stop-color="#00f56e"/><stop offset="0.731" stop-color="#6efffa"/><stop offset="1" stop-color="#6a0089"/></linearGradient><linearGradient id="g273" gradientUnits="userSpaceOnUse" x1="0" y1="0" x2="1" y2="0"><stop offset="0" stop-color="#c9b954"/><stop offset="0.933" stop-color="#c8ff73"/><stop offset="1" stop-color="#c4ff73"/></linearGradient><linearGradient id="g274" gradientUnits="userSpaceOnUse" x1="0" y1="0" x2="1" y2="0"><stop offset="0" stop-color="#c9b954"/><stop offset="0.175" stop-color="#c8ff73"/><stop offset="0.8" stop-color="#00f56e"/><stop offset="1" stop-color="#23f89b"/></linearGradient><linearGradient id="g275" gradientUnits="userSpaceOnUse" x1="0" y1="0" x2="1" y2="0"><stop offset="0" stop-color="#00f56e"/><stop offset="1" stop-color="#23f89b"/></linearGradient><linearGradient id="g276" gradientUnits="userSpaceOnUse" x1="0" y1="0" x2="1" y2="0"><stop offset="0" stop-color="#00f56e"/><stop offset="0.5" stop-color="#6efffa"/><stop offset="1" stop-color="#6a0089"/></linearGradient><linearGradient id="g277" gradientUnits="userSpaceOnUse" x1="0" y1="0" x2="1" y2="0"><stop offset="0" stop-color="#c4ff73"/><stop offset="1" stop-color="#78fb71"/></linearGradient><linearGradient id="g278" gradientUnits="userSpaceOnUse" x1="0" y1="0" x2="1" y2="0"><stop offset="0" stop-color="#c4ff73"/><stop offset="0.653" stop-color="#00f56e"/><stop offset="1" stop-color="#39fab7"/></linearGradient><linearGradient id="g279" gradientUnits="userSpaceOnUse" x1="0" y1="0" x2="1" y2="0"><stop offset="0" stop-color="#23f89b"/><stop offset="1" stop-color="#39fab7"/></linearGradient><linearGradient id="g280" gradientUnits="userSpaceOnUse" x1="0" y1="0" x2="1" y2="0"><stop offset="0" stop-color="#23f89b"/><stop offset="0.405" stop-color="#6efffa"/><stop offset="1" stop-color="#6a0089"/></linearGradient><linearGradient id="g281" gradientUnits="userSpaceOnUse" x1="0" y1="0" x2="1" y2="0"><stop offset="0" stop-color="#78fb71"/><stop offset="1" stop-color="#2cf76f"/></linearGradient><linearGradient id="g282" gradientUnits="userSpaceOnUse" x1="0" y1="0" x2="1" y2="0"><stop offset="0" stop-color="#78fb71"/><stop offset="0.484" stop-color="#00f56e"/><stop offset="1" stop-color="#46fbc8"/></linearGradient><linearGradient id="g283" gradientUnits="userSpaceOnUse" x1="0" y1="0" x2="1" y2="0"><stop offset="0" stop-color="#39fab7"/><stop offset="1" stop-color="#46fbc8"/></linearGradient><linearGradient id="g284" gradientUnits="userSpaceOnUse" x1="0" y1="0" x2="1" y2="0"><stop offset="0" stop-color="#39fab7"/><stop offset="0.324" stop-color="#6efffa"/><stop offset="1" stop-color="#6a0089"/></linearGradient><linearGradient id="g285" gradientUnits="userSpaceOnUse" x1="0" y1="0" x2="1" y2="0"><stop offset="0" stop-color="#2cf76f"/><stop offset="0.611" stop-color="#00f56e"/><stop offset="1" stop-color="#0ff682"/></linearGradient><linearGradient id="g286" gradientUnits="userSpaceOnUse" x1="0" y1="0" x2="1" y2="0"><stop offset="0" stop-color="#2cf76f"/><stop offset="0.216" stop-color="#00f56e"/><stop offset="1" stop-color="#58fdde"/></linearGradient><linearGradient id="g287" gradientUnits="userSpaceOnUse" x1="0" y1="0" x2="1" y2="0"><stop offset="0" stop-color="#46fbc8"/><stop offset="1" stop-color="#58fdde"/></linearGradient><linearGradient id="g288" gradientUnits="userSpaceOnUse" x1="0" y1="0" x2="1" y2="0"><stop offset="0" stop-color="#46fbc8"/><stop offset="0.265" stop-color="#6efffa"/><stop offset="1" stop-color="#6a0089"/></linearGradient><linearGradient id="g289" gradientUnits="userSpaceOnUse" x1="0" y1="0" x2="1" y2="0"><stop offset="0" stop-color="#0ff682"/><stop offset="1" stop-color="#3efbbc"/></linearGradient><linearGradient id="g290" gradientUnits="userSpaceOnUse" x1="0" y1="0" x2="1" y2="0"><stop offset="0" stop-color="#0ff682"/><stop offset="1" stop-color="#6efffa"/></linearGradient><linearGradient id="g291" gradientUnits="userSpaceOnUse" x1="0" y1="0" x2="1" y2="0"><stop offset="0" stop-color="#58fdde"/><stop offset="1" stop-color="#6efffa"/></linearGradient><linearGradient id="g292" gradientUnits="userSpaceOnUse" x1="0" y1="0" x2="1" y2="0"><stop offset="0" stop-color="#58fdde"/><stop offset="0.167" stop-color="#6efffa"/><stop offset="1" stop-color="#6a0089"/></linearGradient><linearGradient id="g293" gradientUnits="userSpaceOnUse" x1="0" y1="0" x2="1" y2="0"><stop offset="0" stop-color="#3efbbc"/><stop offset="1" stop-color="#67fef2"/></linearGradient><linearGradient id="g294" gradientUnits="userSpaceOnUse" x1="0" y1="0" x2="1" y2="0"><stop offset="0" stop-color="#3efbbc"/><stop offset="0.537" stop-color="#6efffa"/><stop offset="1" stop-color="#6c9ecf"/></linearGradient><linearGradient id="g295" gradientUnits="userSpaceOnUse" x1="0" y1="0" x2="1" y2="0"><stop offset="0" stop-color="#6efffa"/><stop offset="1" stop-color="#6c9ecf"/></linearGradient><linearGradient id="g296" gradientUnits="userSpaceOnUse" x1="0" y1="0" x2="1" y2="0"><stop offset="0" stop-color="#6efffa"/><stop offset="1" stop-color="#6a0089"/></linearGradient><linearGradient id="g297" gradientUnits="userSpaceOnUse" x1="0" y1="0" x2="1" y2="0"><stop offset="0" stop-color="#67fef2"/><stop offset="0.0968" stop-color="#6efffa"/><stop offset="1" stop-color="#6c70bb"/></linearGradient><linearGradient id="g298" gradientUnits="userSpaceOnUse" x1="0" y1="0" x2="1" y2="0"><stop offset="0" stop-color="#6c9ecf"/><stop offset="1" stop-color="#6c8fc8"/></linearGradient><linearGradient id="g299" gradientUnits="userSpaceOnUse" x1="0" y1="0" x2="1" y2="0"><stop offset="0" stop-color="#6c9ecf"/><stop offset="1" stop-color="#6a0089"/></linearGradient><linearGradient id="g300" gradientUnits="userSpaceOnUse" x1="0" y1="0" x2="1" y2="0"><stop offset="0" stop-color="#6c70bb"/><stop offset="1" stop-color="#6a0089"/></linearGradient><linearGradient id="g301" gradientUnits="userSpaceOnUse" x1="0" y1="0" x2="1" y2="0"><stop offset="0" stop-color="#6c8fc8"/><stop offset="1" stop-color="#6a0089"/></linearGradient><linearGradient id="g302" gradientUnits="userSpaceOnUse" x1="0" y1="0" x2="1" y2="0"><stop offset="0" stop-color="#cb0606"/><stop offset="1" stop-color="#ca3d1e"/></linearGradient><linearGradient id="g303" gradientUnits="userSpaceOnUse" x1="0" y1="0" x2="1" y2="0"><stop offset="0" stop-color="#ca7e3a"/><stop offset="0.148" stop-color="#c8ff73"/><stop offset="0.432" stop-color="#00f56e"/><stop offset="0.716" stop-color="#6efffa"/><stop offset="1" stop-color="#6a0089"/></linearGradient><linearGradient id="g304" gradientUnits="userSpaceOnUse" x1="0" y1="0" x2="1" y2="0"><stop offset="0" stop-color="#ca3d1e"/><stop offset="1" stop-color="#c99645"/></linearGradient><linearGradient id="g305" gradientUnits="userSpaceOnUse" x1="0" y1="0" x2="1" y2="0"><stop offset="0" stop-color="#cb1f11"/><stop offset="1" stop-color="#c99b47"/></linearGradient><linearGradient id="g306" gradientUnits="userSpaceOnUse" x1="0" y1="0" x2="1" y2="0"><stop offset="0" stop-color="#c99645"/><stop offset="0.512" stop-color="#c8ff73"/><stop offset="1" stop-color="#78fb71"/></linearGradient><linearGradient id="g307" gradientUnits="userSpaceOnUse" x1="0" y1="0" x2="1" y2="0"><stop offset="0" stop-color="#c99b47"/><stop offset="0.118" stop-color="#c8ff73"/><stop offset="0.412" stop-color="#00f56e"/><stop offset="0.706" stop-color="#6efffa"/><stop offset="1" stop-color="#6a0089"/></linearGradient><linearGradient id="g308" gradientUnits="userSpaceOnUse" x1="0" y1="0" x2="1" y2="0"><stop offset="0" stop-color="#78fb71"/><stop offset="0.682" stop-color="#00f56e"/><stop offset="1" stop-color="#1ff895"/></linearGradient><linearGradient id="g309" gradientUnits="userSpaceOnUse" x1="0" y1="0" x2="1" y2="0"><stop offset="0" stop-color="#78fb71"/><stop offset="0.231" stop-color="#00f56e"/><stop offset="0.615" stop-color="#6efffa"/><stop offset="1" stop-color="#6a0089"/></linearGradient><linearGradient id="g310" gradientUnits="userSpaceOnUse" x1="0" y1="0" x2="1" y2="0"><stop offset="0" stop-color="#1ff895"/><stop offset="1" stop-color="#58fdde"/></linearGradient><linearGradient id="g311" gradientUnits="userSpaceOnUse" x1="0" y1="0" x2="1" y2="0"><stop offset="0" stop-color="#1ff895"/><stop offset="0.419" stop-color="#6efffa"/><stop offset="1" stop-color="#6a0089"/></linearGradient><linearGradient id="g312" gradientUnits="userSpaceOnUse" x1="0" y1="0" x2="1" y2="0"><stop offset="0" stop-color="#58fdde"/><stop offset="0.556" stop-color="#6efffa"/><stop offset="1" stop-color="#6dd6e8"/></linearGradient><linearGradient id="g313" gradientUnits="userSpaceOnUse" x1="0" y1="0" x2="1" y2="0"><stop offset="0" stop-color="#6dd6e8"/><stop offset="1" stop-color="#6c96cb"/></linearGradient><linearGradient id="g314" gradientUnits="userSpaceOnUse" x1="0" y1="0" x2="1" y2="0"><stop offset="0" stop-color="#6c96cb"/><stop offset="1" stop-color="#6c66b6"/></linearGradient><linearGradient id="g315" gradientUnits="userSpaceOnUse" x1="0" y1="0" x2="1" y2="0"><stop offset="0" stop-color="#6c96cb"/><stop offset="1" stop-color="#6a0089"/></linearGradient><linearGradient id="g316" gradientUnits="userSpaceOnUse" x1="0" y1="0" x2="1" y2="0"><stop offset="0" stop-color="#6c66b6"/><stop offset="1" stop-color="#6a0089"/></linearGradient><linearGradient id="g317" gradientUnits="userSpaceOnUse" x1="0" y1="0" x2="1" y2="0"><stop offset="0" stop-color="#6c66b6"/><stop offset="1" stop-color="#6b3da4"/></linearGradient><linearGradient id="g318" gradientUnits="userSpaceOnUse" x1="0" y1="0" x2="1" y2="0"><stop offset="0" stop-color="#6b3da4"/><stop offset="1" stop-color="#6a0089"/></linearGradient><linearGradient id="g319" gradientUnits="userSpaceOnUse" x1="0" y1="0" x2="1" y2="0"><stop offset="0" stop-color="#cb0606"/><stop offset="1" stop-color="#ca331a"/></linearGradient><linearGradient id="g320" gradientUnits="userSpaceOnUse" x1="0" y1="0" x2="1" y2="0"><stop offset="0" stop-color="#cb0606"/><stop offset="1" stop-color="#cb100a"/></linearGradient><linearGradient id="g321" gradientUnits="userSpaceOnUse" x1="0" y1="0" x2="1" y2="0"><stop offset="0" stop-color="#ca331a"/><stop offset="1" stop-color="#c8f56f"/></linearGradient><linearGradient id="g322" gradientUnits="userSpaceOnUse" x1="0" y1="0" x2="1" y2="0"><stop offset="0" stop-color="#cb100a"/><stop offset="0.242" stop-color="#c8ff73"/><stop offset="0.495" stop-color="#00f56e"/><stop offset="0.747" stop-color="#6efffa"/><stop offset="1" stop-color="#6a0089"/></linearGradient><linearGradient id="g323" gradientUnits="userSpaceOnUse" x1="0" y1="0" x2="1" y2="0"><stop offset="0" stop-color="#c8f56f"/><stop offset="0.0132" stop-color="#c8ff73"/><stop offset="0.342" stop-color="#00f56e"/><stop offset="0.671" stop-color="#6efffa"/><stop offset="1" stop-color="#6a0089"/></linearGradient><linearGradient id="g324" gradientUnits="userSpaceOnUse" x1="0" y1="0" x2="1" y2="0"><stop offset="0" stop-color="#cb0606"/><stop offset="1" stop-color="#c9cd5d"/></linearGradient><linearGradient id="g325" gradientUnits="userSpaceOnUse" x1="0" y1="0" x2="1" y2="0"><stop offset="0" stop-color="#c9cd5d"/><stop offset="0.0625" stop-color="#c8ff73"/><stop offset="0.375" stop-color="#00f56e"/><stop offset="0.688" stop-color="#6efffa"/><stop offset="1" stop-color="#6a0089"/></linearGradient><filter id="bl" x="-5%" y="-5%" width="110%" height="110%" color-interpolation-filters="sRGB"><feGaussianBlur stdDeviation="0.45"/></filter></defs>
<rect width="685" height="396" fill="#fff"/>
<clipPath id="cpa"><rect x="23.30" y="12.50" width="179.50" height="157.50"/></clipPath><g clip-path="url(#cpa)"><g filter="url(#bl)"><rect x="19.30" y="8.50" width="187.50" height="165.50" fill="#6a0089"/>
<g transform="translate(23.300 170.00) scale(9.4474 -157.50)"><rect x="-0.4234" y="-0.0254" width="1.55" height="1.051" fill="#cb0606"/></g>
<g transform="translate(32.747 170.00) scale(9.4474 -157.50)"><rect x="0" y="-0.0254" width="1.127" height="1.051" fill="#cb0606"/></g>
<g transform="translate(42.195 170.00) scale(9.4474 -157.50)"><rect x="0" y="0.4244" width="1.127" height="0.601" fill="url(#g0)"/><rect x="0" y="0.3244" width="1.127" height="0.1076" fill="url(#g1)"/><rect x="0" y="0.2344" width="1.127" height="0.09762" fill="url(#g2)"/><rect x="0" y="0.1544" width="1.127" height="0.08762" fill="url(#g3)"/><rect x="0" y="0.08438" width="1.127" height="0.07762" fill="url(#g4)"/><rect x="0" y="-0.0254" width="1.127" height="0.1174" fill="url(#g5)"/></g>
<g transform="translate(51.642 170.00) scale(9.4474 -157.50)"><rect x="0" y="0.4534" width="1.127" height="0.572" fill="url(#g6)"/><rect x="0" y="0.4244" width="1.127" height="0.03662" fill="url(#g7)"/><rect x="0" y="0.3534" width="1.127" height="0.07862" fill="url(#g8)"/><rect x="0" y="0.3244" width="1.127" height="0.03662" fill="url(#g9)"/><rect x="0" y="0.2634" width="1.127" height="0.06862" fill="url(#g10)"/><rect x="0" y="0.2344" width="1.127" height="0.03662" fill="url(#g11)"/><rect x="0" y="0.1834" width="1.127" height="0.05862" fill="url(#g12)"/><rect x="0" y="0.1544" width="1.127" height="0.03662" fill="url(#g13)"/><rect x="0" y="0.1134" width="1.127" height="0.04862" fill="url(#g14)"/><rect x="0" y="0.092" width="1.127" height="0.029" fill="url(#g15)"/></g>
<g transform="translate(61.089 170.00) scale(9.4474 -157.50)"><rect x="0" y="0.4744" width="1.127" height="0.551" fill="url(#g16)"/><rect x="0" y="0.4534" width="1.127" height="0.02862" fill="url(#g17)"/><rect x="0" y="0.3744" width="1.127" height="0.08662" fill="url(#g18)"/><rect x="0" y="0.3534" width="1.127" height="0.02862" fill="url(#g19)"/><rect x="0" y="0.2844" width="1.127" height="0.07662" fill="url(#g20)"/><rect x="0" y="0.2634" width="1.127" height="0.02862" fill="url(#g21)"/><rect x="0" y="0.2044" width="1.127" height="0.06662" fill="url(#g22)"/><rect x="0" y="0.1834" width="1.127" height="0.02862" fill="url(#g23)"/><rect x="0" y="0.1344" width="1.127" height="0.05662" fill="url(#g24)"/><rect x="0" y="0.121" width="1.127" height="0.021" fill="url(#g25)"/></g>
<g transform="translate(70.537 170.00) scale(9.4474 -157.50)"><rect x="0" y="0.4964" width="1.127" height="0.529" fill="url(#g26)"/><rect x="0" y="0.4744" width="1.127" height="0.02962" fill="url(#g27)"/><rect x="0" y="0.3964" width="1.127" height="0.08562" fill="url(#g28)"/><rect x="0" y="0.3744" width="1.127" height="0.02962" fill="url(#g29)"/><rect x="0" y="0.3064" width="1.127" height="0.07562" fill="url(#g30)"/><rect x="0" y="0.2844" width="1.127" height="0.02962" fill="url(#g31)"/><rect x="0" y="0.2264" width="1.127" height="0.06562" fill="url(#g32)"/><rect x="0" y="0.2044" width="1.127" height="0.02962" fill="url(#g33)"/><rect x="0" y="0.1564" width="1.127" height="0.05562" fill="url(#g34)"/><rect x="0" y="0.142" width="1.127" height="0.022" fill="url(#g35)"/></g>
<g transform="translate(79.984 170.00) scale(9.4474 -157.50)"><rect x="0" y="0.5174" width="1.127" height="0.508" fill="url(#g36)"/><rect x="0" y="0.4964" width="1.127" height="0.02862" fill="url(#g37)"/><rect x="0" y="0.4174" width="1.127" height="0.08662" fill="url(#g38)"/><rect x="0" y="0.3964" width="1.127" height="0.02862" fill="url(#g39)"/><rect x="0" y="0.3274" width="1.127" height="0.07662" fill="url(#g40)"/><rect x="0" y="0.3064" width="1.127" height="0.02862" fill="url(#g41)"/><rect x="0" y="0.2474" width="1.127" height="0.06662" fill="url(#g42)"/><rect x="0" y="0.2264" width="1.127" height="0.02862" fill="url(#g43)"/><rect x="0" y="0.1774" width="1.127" height="0.05662" fill="url(#g44)"/><rect x="0" y="0.164" width="1.127" height="0.021" fill="url(#g45)"/></g>
<g transform="translate(89.432 170.00) scale(9.4474 -157.50)"><rect x="0" y="0.5404" width="1.127" height="0.485" fill="url(#g46)"/><rect x="0" y="0.5174" width="1.127" height="0.03062" fill="url(#g47)"/><rect x="0" y="0.4404" width="1.127" height="0.08462" fill="url(#g48)"/><rect x="0" y="0.4174" width="1.127" height="0.03062" fill="url(#g49)"/><rect x="0" y="0.3504" width="1.127" height="0.07462" fill="url(#g50)"/><rect x="0" y="0.3274" width="1.127" height="0.03062" fill="url(#g51)"/><rect x="0" y="0.2704" width="1.127" height="0.06462" fill="url(#g52)"/><rect x="0" y="0.2474" width="1.127" height="0.03062" fill="url(#g53)"/><rect x="0" y="0.2004" width="1.127" height="0.05462" fill="url(#g54)"/><rect x="0" y="0.185" width="1.127" height="0.023" fill="url(#g55)"/></g>
<g transform="translate(98.879 170.00) scale(9.4474 -157.50)"><rect x="0" y="0.5634" width="1.127" height="0.462" fill="url(#g56)"/><rect x="0" y="0.5404" width="1.127" height="0.03062" fill="url(#g57)"/><rect x="0" y="0.4634" width="1.127" height="0.08462" fill="url(#g58)"/><rect x="0" y="0.4404" width="1.127" height="0.03062" fill="url(#g59)"/><rect x="0" y="0.3734" width="1.127" height="0.07462" fill="url(#g60)"/><rect x="0" y="0.3504" width="1.127" height="0.03062" fill="url(#g61)"/><rect x="0" y="0.2934" width="1.127" height="0.06462" fill="url(#g62)"/><rect x="0" y="0.2704" width="1.127" height="0.03062" fill="url(#g63)"/><rect x="0" y="0.2234" width="1.127" height="0.05462" fill="url(#g64)"/><rect x="0" y="0.208" width="1.127" height="0.023" fill="url(#g65)"/></g>
<g transform="translate(108.326 170.00) scale(9.4474 -157.50)"><rect x="0" y="0.5634" width="1.127" height="0.462" fill="url(#g66)"/><rect x="0" y="0.4634" width="1.127" height="0.1076" fill="url(#g67)"/><rect x="0" y="0.3734" width="1.127" height="0.09762" fill="url(#g68)"/><rect x="0" y="0.2934" width="1.127" height="0.08762" fill="url(#g69)"/><rect x="0" y="0.2524" width="1.127" height="0.04862" fill="url(#g70)"/><rect x="0" y="0.231" width="1.127" height="0.029" fill="url(#g71)"/></g>
<g transform="translate(117.774 170.00) scale(9.4474 -157.50)"><rect x="0" y="0.6264" width="1.127" height="0.399" fill="url(#g72)"/><rect x="0" y="0.5264" width="1.127" height="0.1076" fill="url(#g73)"/><rect x="0" y="0.4364" width="1.127" height="0.09762" fill="url(#g74)"/><rect x="0" y="0.3564" width="1.127" height="0.08762" fill="url(#g75)"/><rect x="0" y="0.2864" width="1.127" height="0.07762" fill="url(#g76)"/><rect x="0" y="0.26" width="1.127" height="0.034" fill="url(#g77)"/></g>
<g transform="translate(127.221 170.00) scale(9.4474 -157.50)"><rect x="0" y="0.6544" width="1.127" height="0.371" fill="url(#g78)"/><rect x="0" y="0.6264" width="1.127" height="0.03562" fill="url(#g79)"/><rect x="0" y="0.5544" width="1.127" height="0.07962" fill="url(#g80)"/><rect x="0" y="0.5264" width="1.127" height="0.03562" fill="url(#g81)"/><rect x="0" y="0.4644" width="1.127" height="0.06962" fill="url(#g82)"/><rect x="0" y="0.4364" width="1.127" height="0.03562" fill="url(#g83)"/><rect x="0" y="0.3844" width="1.127" height="0.05962" fill="url(#g84)"/><rect x="0" y="0.3564" width="1.127" height="0.03562" fill="url(#g85)"/><rect x="0" y="0.3144" width="1.127" height="0.04962" fill="url(#g86)"/><rect x="0" y="0.294" width="1.127" height="0.028" fill="url(#g87)"/></g>
<g transform="translate(136.668 170.00) scale(9.4474 -157.50)"><rect x="0" y="0.6924" width="1.127" height="0.333" fill="url(#g88)"/><rect x="0" y="0.6544" width="1.127" height="0.04562" fill="url(#g89)"/><rect x="0" y="0.5924" width="1.127" height="0.06962" fill="url(#g90)"/><rect x="0" y="0.5544" width="1.127" height="0.04562" fill="url(#g91)"/><rect x="0" y="0.5024" width="1.127" height="0.05962" fill="url(#g92)"/><rect x="0" y="0.4644" width="1.127" height="0.04562" fill="url(#g93)"/><rect x="0" y="0.4224" width="1.127" height="0.04962" fill="url(#g94)"/><rect x="0" y="0.3844" width="1.127" height="0.04562" fill="url(#g95)"/><rect x="0" y="0.3524" width="1.127" height="0.03962" fill="url(#g96)"/><rect x="0" y="0.322" width="1.127" height="0.038" fill="url(#g97)"/></g>
<g transform="translate(146.116 170.00) scale(9.4474 -157.50)"><rect x="0" y="0.7464" width="1.127" height="0.279" fill="url(#g98)"/><rect x="0" y="0.6924" width="1.127" height="0.06162" fill="url(#g99)"/><rect x="0" y="0.6464" width="1.127" height="0.05362" fill="url(#g100)"/><rect x="0" y="0.5924" width="1.127" height="0.06162" fill="url(#g101)"/><rect x="0" y="0.5564" width="1.127" height="0.04362" fill="url(#g102)"/><rect x="0" y="0.5024" width="1.127" height="0.06162" fill="url(#g103)"/><rect x="0" y="0.4764" width="1.127" height="0.03362" fill="url(#g104)"/><rect x="0" y="0.4224" width="1.127" height="0.06162" fill="url(#g105)"/><rect x="0" y="0.4064" width="1.127" height="0.02362" fill="url(#g106)"/><rect x="0" y="0.36" width="1.127" height="0.054" fill="url(#g107)"/></g>
<g transform="translate(155.563 170.00) scale(9.4474 -157.50)"><rect x="0" y="0.8054" width="1.127" height="0.22" fill="url(#g108)"/><rect x="0" y="0.7464" width="1.127" height="0.06662" fill="url(#g109)"/><rect x="0" y="0.7054" width="1.127" height="0.04862" fill="url(#g110)"/><rect x="0" y="0.6464" width="1.127" height="0.06662" fill="url(#g111)"/><rect x="0" y="0.6154" width="1.127" height="0.03862" fill="url(#g112)"/><rect x="0" y="0.5564" width="1.127" height="0.06662" fill="url(#g113)"/><rect x="0" y="0.5354" width="1.127" height="0.02862" fill="url(#g114)"/><rect x="0" y="0.4764" width="1.127" height="0.06662" fill="url(#g115)"/><rect x="0" y="0.4654" width="1.127" height="0.01862" fill="url(#g116)"/><rect x="0" y="0.414" width="1.127" height="0.059" fill="url(#g117)"/></g>
<g transform="translate(165.011 170.00) scale(9.4474 -157.50)"><rect x="0" y="0.9194" width="1.127" height="0.106" fill="url(#g118)"/><rect x="0" y="0.8194" width="1.127" height="0.1076" fill="url(#g119)"/><rect x="0" y="0.8054" width="1.127" height="0.02162" fill="url(#g120)"/><rect x="0" y="0.7294" width="1.127" height="0.08362" fill="url(#g121)"/><rect x="0" y="0.7054" width="1.127" height="0.03162" fill="url(#g122)"/><rect x="0" y="0.6494" width="1.127" height="0.06362" fill="url(#g123)"/><rect x="0" y="0.6154" width="1.127" height="0.04162" fill="url(#g124)"/><rect x="0" y="0.5794" width="1.127" height="0.04362" fill="url(#g125)"/><rect x="0" y="0.5354" width="1.127" height="0.05162" fill="url(#g126)"/><rect x="0" y="0.473" width="1.127" height="0.07" fill="url(#g127)"/></g>
<g transform="translate(174.458 170.00) scale(9.4474 -157.50)"><rect x="0" y="0.9194" width="1.127" height="0.106" fill="url(#g128)"/><rect x="0" y="0.8194" width="1.127" height="0.1076" fill="url(#g129)"/><rect x="0" y="0.7294" width="1.127" height="0.09762" fill="url(#g130)"/><rect x="0" y="0.6494" width="1.127" height="0.08762" fill="url(#g131)"/><rect x="0" y="0.587" width="1.127" height="0.07" fill="url(#g132)"/></g></g></g>
<path d="M32.75 170.00v-2.3M32.75 12.50v2.3M42.19 170.00v-1.2M42.19 12.50v1.2M51.64 170.00v-2.3M51.64 12.50v2.3M61.09 170.00v-1.2M61.09 12.50v1.2M70.54 170.00v-2.3M70.54 12.50v2.3M79.98 170.00v-1.2M79.98 12.50v1.2M89.43 170.00v-2.3M89.43 12.50v2.3M98.88 170.00v-1.2M98.88 12.50v1.2M108.33 170.00v-2.3M108.33 12.50v2.3M117.77 170.00v-1.2M117.77 12.50v1.2M127.22 170.00v-2.3M127.22 12.50v2.3M136.67 170.00v-1.2M136.67 12.50v1.2M146.12 170.00v-2.3M146.12 12.50v2.3M155.56 170.00v-1.2M155.56 12.50v1.2M165.01 170.00v-2.3M165.01 12.50v2.3M174.46 170.00v-1.2M174.46 12.50v1.2M183.91 170.00v-2.3M183.91 12.50v2.3M193.35 170.00v-1.2M193.35 12.50v1.2M23.30 154.25h1.2M202.80 154.25h-1.2M23.30 138.50h2.3M202.80 138.50h-2.3M23.30 122.75h1.2M202.80 122.75h-1.2M23.30 107.00h2.3M202.80 107.00h-2.3M23.30 91.25h1.2M202.80 91.25h-1.2M23.30 75.50h2.3M202.80 75.50h-2.3M23.30 59.75h1.2M202.80 59.75h-1.2M23.30 44.00h2.3M202.80 44.00h-2.3M23.30 28.25h1.2M202.80 28.25h-1.2" stroke="#000" stroke-width="0.6" fill="none"/>
<rect x="23.30" y="12.50" width="179.50" height="157.50" fill="none" stroke="#000" stroke-opacity="0.6" stroke-width="0.5"/>
<text x="32.7" y="178.9" text-anchor="middle" class="t">2</text>
<text x="51.6" y="178.9" text-anchor="middle" class="t">4</text>
<text x="70.5" y="178.9" text-anchor="middle" class="t">6</text>
<text x="89.4" y="178.9" text-anchor="middle" class="t">8</text>
<text x="108.3" y="178.9" text-anchor="middle" class="t">10</text>
<text x="127.2" y="178.9" text-anchor="middle" class="t">12</text>
<text x="146.1" y="178.9" text-anchor="middle" class="t">14</text>
<text x="165.0" y="178.9" text-anchor="middle" class="t">16</text>
<text x="183.9" y="178.9" text-anchor="middle" class="t">18</text>
<text x="202.8" y="178.9" text-anchor="middle" class="t">20</text>
<text x="20.6" y="172.6" text-anchor="end" class="t">0.0</text>
<text x="20.6" y="141.1" text-anchor="end" class="t">0.2</text>
<text x="20.6" y="109.6" text-anchor="end" class="t">0.4</text>
<text x="20.6" y="78.1" text-anchor="end" class="t">0.6</text>
<text x="20.6" y="46.6" text-anchor="end" class="t">0.8</text>
<text x="20.6" y="15.1" text-anchor="end" class="t">1.0</text>
<text x="108.2" y="193.9" class="k">K<tspan dy="3" font-size="7">s</tspan></text>
<text transform="translate(5.7 91.2) rotate(-90)" text-anchor="middle" class="k">q</text>
<text x="18.0" y="5.9" class="b">(a) SF-EXP &quot;AND&quot; assortative</text>
<clipPath id="cpb"><rect x="239.20" y="12.50" width="178.80" height="157.50"/></clipPath><g clip-path="url(#cpb)"><g filter="url(#bl)"><rect x="235.20" y="8.50" width="186.80" height="165.50" fill="#6a0089"/>
<g transform="translate(239.200 170.00) scale(9.4105 -157.50)"><rect x="-0.4251" y="-0.0254" width="1.553" height="1.051" fill="#cb0606"/></g>
<g transform="translate(248.611 170.00) scale(9.4105 -157.50)"><rect x="0" y="-0.0254" width="1.128" height="1.051" fill="#cb0606"/></g>
<g transform="translate(258.021 170.00) scale(9.4105 -157.50)"><rect x="0" y="0.4074" width="1.128" height="0.618" fill="url(#g133)"/><rect x="0" y="0.3074" width="1.128" height="0.1076" fill="url(#g134)"/><rect x="0" y="0.2174" width="1.128" height="0.09762" fill="url(#g135)"/><rect x="0" y="0.1374" width="1.128" height="0.08762" fill="url(#g136)"/><rect x="0" y="0.06738" width="1.128" height="0.07762" fill="#cb0606"/><rect x="0" y="-0.0254" width="1.128" height="0.1004" fill="url(#g5)"/></g>
<g transform="translate(267.432 170.00) scale(9.4105 -157.50)"><rect x="0" y="0.4434" width="1.128" height="0.582" fill="url(#g137)"/><rect x="0" y="0.4074" width="1.128" height="0.04362" fill="url(#g138)"/><rect x="0" y="0.3434" width="1.128" height="0.07162" fill="url(#g139)"/><rect x="0" y="0.3074" width="1.128" height="0.04362" fill="url(#g140)"/><rect x="0" y="0.2534" width="1.128" height="0.06162" fill="url(#g141)"/><rect x="0" y="0.2174" width="1.128" height="0.04362" fill="url(#g142)"/><rect x="0" y="0.1734" width="1.128" height="0.05162" fill="url(#g143)"/><rect x="0" y="0.1374" width="1.128" height="0.04362" fill="url(#g144)"/><rect x="0" y="0.1034" width="1.128" height="0.04162" fill="url(#g145)"/><rect x="0" y="0.075" width="1.128" height="0.036" fill="url(#g5)"/></g>
<g transform="translate(276.842 170.00) scale(9.4105 -157.50)"><rect x="0" y="0.4534" width="1.128" height="0.572" fill="url(#g146)"/><rect x="0" y="0.4434" width="1.128" height="0.01762" fill="url(#g147)"/><rect x="0" y="0.3534" width="1.128" height="0.09762" fill="url(#g148)"/><rect x="0" y="0.3434" width="1.128" height="0.01762" fill="url(#g149)"/><rect x="0" y="0.2634" width="1.128" height="0.08762" fill="url(#g150)"/><rect x="0" y="0.2534" width="1.128" height="0.01762" fill="url(#g151)"/><rect x="0" y="0.1834" width="1.128" height="0.07762" fill="url(#g152)"/><rect x="0" y="0.1734" width="1.128" height="0.01762" fill="url(#g153)"/><rect x="0" y="0.1134" width="1.128" height="0.06762" fill="url(#g154)"/><rect x="0" y="0.111" width="1.128" height="0.01" fill="url(#g155)"/></g>
<g transform="translate(286.253 170.00) scale(9.4105 -157.50)"><rect x="0" y="0.4844" width="1.128" height="0.541" fill="url(#g156)"/><rect x="0" y="0.4534" width="1.128" height="0.03862" fill="url(#g157)"/><rect x="0" y="0.3844" width="1.128" height="0.07662" fill="url(#g158)"/><rect x="0" y="0.3534" width="1.128" height="0.03862" fill="url(#g159)"/><rect x="0" y="0.2944" width="1.128" height="0.06662" fill="url(#g160)"/><rect x="0" y="0.2634" width="1.128" height="0.03862" fill="url(#g161)"/><rect x="0" y="0.2144" width="1.128" height="0.05662" fill="url(#g162)"/><rect x="0" y="0.1834" width="1.128" height="0.03862" fill="url(#g163)"/><rect x="0" y="0.1444" width="1.128" height="0.04662" fill="url(#g164)"/><rect x="0" y="0.121" width="1.128" height="0.031" fill="url(#g165)"/></g>
<g transform="translate(295.663 170.00) scale(9.4105 -157.50)"><rect x="0" y="0.5164" width="1.128" height="0.509" fill="url(#g166)"/><rect x="0" y="0.4844" width="1.128" height="0.03962" fill="url(#g167)"/><rect x="0" y="0.4164" width="1.128" height="0.07562" fill="url(#g168)"/><rect x="0" y="0.3844" width="1.128" height="0.03962" fill="url(#g169)"/><rect x="0" y="0.3264" width="1.128" height="0.06562" fill="url(#g170)"/><rect x="0" y="0.2944" width="1.128" height="0.03962" fill="url(#g171)"/><rect x="0" y="0.2464" width="1.128" height="0.05562" fill="url(#g172)"/><rect x="0" y="0.2144" width="1.128" height="0.03962" fill="url(#g173)"/><rect x="0" y="0.1764" width="1.128" height="0.04562" fill="url(#g174)"/><rect x="0" y="0.152" width="1.128" height="0.032" fill="url(#g175)"/></g>
<g transform="translate(305.074 170.00) scale(9.4105 -157.50)"><rect x="0" y="0.5464" width="1.128" height="0.479" fill="url(#g176)"/><rect x="0" y="0.5164" width="1.128" height="0.03762" fill="url(#g177)"/><rect x="0" y="0.4464" width="1.128" height="0.07762" fill="url(#g178)"/><rect x="0" y="0.4164" width="1.128" height="0.03762" fill="url(#g179)"/><rect x="0" y="0.3564" width="1.128" height="0.06762" fill="url(#g180)"/><rect x="0" y="0.3264" width="1.128" height="0.03762" fill="url(#g181)"/><rect x="0" y="0.2764" width="1.128" height="0.05762" fill="url(#g182)"/><rect x="0" y="0.2464" width="1.128" height="0.03762" fill="url(#g183)"/><rect x="0" y="0.2064" width="1.128" height="0.04762" fill="url(#g184)"/><rect x="0" y="0.184" width="1.128" height="0.03" fill="url(#g185)"/></g>
<g transform="translate(314.484 170.00) scale(9.4105 -157.50)"><rect x="0" y="0.5634" width="1.128" height="0.462" fill="url(#g186)"/><rect x="0" y="0.5464" width="1.128" height="0.02462" fill="url(#g187)"/><rect x="0" y="0.4634" width="1.128" height="0.09062" fill="url(#g188)"/><rect x="0" y="0.4464" width="1.128" height="0.02462" fill="url(#g189)"/><rect x="0" y="0.3734" width="1.128" height="0.08062" fill="url(#g190)"/><rect x="0" y="0.3564" width="1.128" height="0.02462" fill="url(#g191)"/><rect x="0" y="0.2934" width="1.128" height="0.07062" fill="url(#g192)"/><rect x="0" y="0.2764" width="1.128" height="0.02462" fill="url(#g193)"/><rect x="0" y="0.2234" width="1.128" height="0.06062" fill="url(#g194)"/><rect x="0" y="0.214" width="1.128" height="0.017" fill="url(#g195)"/></g>
<g transform="translate(323.895 170.00) scale(9.4105 -157.50)"><rect x="0" y="0.5634" width="1.128" height="0.462" fill="url(#g196)"/><rect x="0" y="0.4934" width="1.128" height="0.07762" fill="url(#g197)"/><rect x="0" y="0.4634" width="1.128" height="0.03762" fill="url(#g198)"/><rect x="0" y="0.4034" width="1.128" height="0.06762" fill="url(#g199)"/><rect x="0" y="0.3734" width="1.128" height="0.03762" fill="url(#g200)"/><rect x="0" y="0.3234" width="1.128" height="0.05762" fill="url(#g201)"/><rect x="0" y="0.2934" width="1.128" height="0.03762" fill="url(#g202)"/><rect x="0" y="0.2534" width="1.128" height="0.04762" fill="url(#g203)"/><rect x="0" y="0.231" width="1.128" height="0.03" fill="url(#g204)"/></g>
<g transform="translate(333.305 170.00) scale(9.4105 -157.50)"><rect x="0" y="0.6324" width="1.128" height="0.393" fill="url(#g205)"/><rect x="0" y="0.5324" width="1.128" height="0.1076" fill="url(#g206)"/><rect x="0" y="0.4934" width="1.128" height="0.04662" fill="url(#g207)"/><rect x="0" y="0.4424" width="1.128" height="0.05862" fill="url(#g208)"/><rect x="0" y="0.4034" width="1.128" height="0.04662" fill="url(#g209)"/><rect x="0" y="0.3624" width="1.128" height="0.04862" fill="url(#g210)"/><rect x="0" y="0.3234" width="1.128" height="0.04662" fill="url(#g211)"/><rect x="0" y="0.2924" width="1.128" height="0.03862" fill="url(#g212)"/><rect x="0" y="0.261" width="1.128" height="0.039" fill="url(#g213)"/></g>
<g transform="translate(342.716 170.00) scale(9.4105 -157.50)"><rect x="0" y="0.6754" width="1.128" height="0.35" fill="url(#g214)"/><rect x="0" y="0.6324" width="1.128" height="0.05062" fill="url(#g215)"/><rect x="0" y="0.5754" width="1.128" height="0.06462" fill="url(#g216)"/><rect x="0" y="0.5324" width="1.128" height="0.05062" fill="url(#g217)"/><rect x="0" y="0.4854" width="1.128" height="0.05462" fill="url(#g218)"/><rect x="0" y="0.4424" width="1.128" height="0.05062" fill="url(#g219)"/><rect x="0" y="0.4054" width="1.128" height="0.04462" fill="url(#g220)"/><rect x="0" y="0.3624" width="1.128" height="0.05062" fill="url(#g221)"/><rect x="0" y="0.3354" width="1.128" height="0.03462" fill="url(#g222)"/><rect x="0" y="0.3" width="1.128" height="0.043" fill="url(#g223)"/></g>
<g transform="translate(352.126 170.00) scale(9.4105 -157.50)"><rect x="0" y="0.7054" width="1.128" height="0.32" fill="url(#g224)"/><rect x="0" y="0.6754" width="1.128" height="0.03762" fill="url(#g225)"/><rect x="0" y="0.6054" width="1.128" height="0.07762" fill="url(#g226)"/><rect x="0" y="0.5754" width="1.128" height="0.03762" fill="url(#g227)"/><rect x="0" y="0.5154" width="1.128" height="0.06762" fill="url(#g228)"/><rect x="0" y="0.4854" width="1.128" height="0.03762" fill="url(#g229)"/><rect x="0" y="0.4354" width="1.128" height="0.05762" fill="url(#g230)"/><rect x="0" y="0.4054" width="1.128" height="0.03762" fill="url(#g231)"/><rect x="0" y="0.3654" width="1.128" height="0.04762" fill="url(#g232)"/><rect x="0" y="0.343" width="1.128" height="0.03" fill="url(#g233)"/></g>
<g transform="translate(361.537 170.00) scale(9.4105 -157.50)"><rect x="0" y="0.7564" width="1.128" height="0.269" fill="url(#g234)"/><rect x="0" y="0.7054" width="1.128" height="0.05862" fill="url(#g235)"/><rect x="0" y="0.6564" width="1.128" height="0.05662" fill="url(#g236)"/><rect x="0" y="0.6054" width="1.128" height="0.05862" fill="url(#g237)"/><rect x="0" y="0.5664" width="1.128" height="0.04662" fill="url(#g238)"/><rect x="0" y="0.5154" width="1.128" height="0.05862" fill="url(#g239)"/><rect x="0" y="0.4864" width="1.128" height="0.03662" fill="url(#g240)"/><rect x="0" y="0.4354" width="1.128" height="0.05862" fill="url(#g241)"/><rect x="0" y="0.4164" width="1.128" height="0.02662" fill="url(#g242)"/><rect x="0" y="0.373" width="1.128" height="0.051" fill="url(#g243)"/></g>
<g transform="translate(370.947 170.00) scale(9.4105 -157.50)"><rect x="0" y="0.8174" width="1.128" height="0.208" fill="url(#g244)"/><rect x="0" y="0.7564" width="1.128" height="0.06862" fill="url(#g245)"/><rect x="0" y="0.7174" width="1.128" height="0.04662" fill="url(#g246)"/><rect x="0" y="0.6564" width="1.128" height="0.06862" fill="url(#g247)"/><rect x="0" y="0.6274" width="1.128" height="0.03662" fill="url(#g248)"/><rect x="0" y="0.5664" width="1.128" height="0.06862" fill="url(#g249)"/><rect x="0" y="0.5474" width="1.128" height="0.02662" fill="url(#g250)"/><rect x="0" y="0.4864" width="1.128" height="0.06862" fill="url(#g251)"/><rect x="0" y="0.4774" width="1.128" height="0.01662" fill="url(#g252)"/><rect x="0" y="0.424" width="1.128" height="0.061" fill="url(#g253)"/></g>
<g transform="translate(380.358 170.00) scale(9.4105 -157.50)"><rect x="0" y="0.9294" width="1.128" height="0.09602" fill="url(#g254)"/><rect x="0" y="0.8294" width="1.128" height="0.1076" fill="url(#g255)"/><rect x="0" y="0.8174" width="1.128" height="0.01962" fill="url(#g256)"/><rect x="0" y="0.7394" width="1.128" height="0.08562" fill="url(#g257)"/><rect x="0" y="0.7174" width="1.128" height="0.02962" fill="url(#g258)"/><rect x="0" y="0.6594" width="1.128" height="0.06562" fill="url(#g259)"/><rect x="0" y="0.6274" width="1.128" height="0.03962" fill="url(#g260)"/><rect x="0" y="0.5894" width="1.128" height="0.04562" fill="url(#g261)"/><rect x="0" y="0.5474" width="1.128" height="0.04962" fill="url(#g262)"/><rect x="0" y="0.485" width="1.128" height="0.07" fill="url(#g263)"/></g>
<g transform="translate(389.768 170.00) scale(9.4105 -157.50)"><rect x="0" y="0.9294" width="1.128" height="0.09602" fill="url(#g264)"/><rect x="0" y="0.8294" width="1.128" height="0.1076" fill="url(#g265)"/><rect x="0" y="0.7394" width="1.128" height="0.09762" fill="url(#g266)"/><rect x="0" y="0.6594" width="1.128" height="0.08762" fill="url(#g267)"/><rect x="0" y="0.597" width="1.128" height="0.07" fill="url(#g268)"/></g></g></g>
<path d="M248.61 170.00v-2.3M248.61 12.50v2.3M258.02 170.00v-1.2M258.02 12.50v1.2M267.43 170.00v-2.3M267.43 12.50v2.3M276.84 170.00v-1.2M276.84 12.50v1.2M286.25 170.00v-2.3M286.25 12.50v2.3M295.66 170.00v-1.2M295.66 12.50v1.2M305.07 170.00v-2.3M305.07 12.50v2.3M314.48 170.00v-1.2M314.48 12.50v1.2M323.89 170.00v-2.3M323.89 12.50v2.3M333.31 170.00v-1.2M333.31 12.50v1.2M342.72 170.00v-2.3M342.72 12.50v2.3M352.13 170.00v-1.2M352.13 12.50v1.2M361.54 170.00v-2.3M361.54 12.50v2.3M370.95 170.00v-1.2M370.95 12.50v1.2M380.36 170.00v-2.3M380.36 12.50v2.3M389.77 170.00v-1.2M389.77 12.50v1.2M399.18 170.00v-2.3M399.18 12.50v2.3M408.59 170.00v-1.2M408.59 12.50v1.2M239.20 154.25h1.2M418.00 154.25h-1.2M239.20 138.50h2.3M418.00 138.50h-2.3M239.20 122.75h1.2M418.00 122.75h-1.2M239.20 107.00h2.3M418.00 107.00h-2.3M239.20 91.25h1.2M418.00 91.25h-1.2M239.20 75.50h2.3M418.00 75.50h-2.3M239.20 59.75h1.2M418.00 59.75h-1.2M239.20 44.00h2.3M418.00 44.00h-2.3M239.20 28.25h1.2M418.00 28.25h-1.2" stroke="#000" stroke-width="0.6" fill="none"/>
<rect x="239.20" y="12.50" width="178.80" height="157.50" fill="none" stroke="#000" stroke-opacity="0.6" stroke-width="0.5"/>
<text x="248.6" y="178.9" text-anchor="middle" class="t">2</text>
<text x="267.4" y="178.9" text-anchor="middle" class="t">4</text>
<text x="286.3" y="178.9" text-anchor="middle" class="t">6</text>
<text x="305.1" y="178.9" text-anchor="middle" class="t">8</text>
<text x="323.9" y="178.9" text-anchor="middle" class="t">10</text>
<text x="342.7" y="178.9" text-anchor="middle" class="t">12</text>
<text x="361.5" y="178.9" text-anchor="middle" class="t">14</text>
<text x="380.4" y="178.9" text-anchor="middle" class="t">16</text>
<text x="399.2" y="178.9" text-anchor="middle" class="t">18</text>
<text x="418.0" y="178.9" text-anchor="middle" class="t">20</text>
<text x="236.5" y="172.6" text-anchor="end" class="t">0.0</text>
<text x="236.5" y="141.1" text-anchor="end" class="t">0.2</text>
<text x="236.5" y="109.6" text-anchor="end" class="t">0.4</text>
<text x="236.5" y="78.1" text-anchor="end" class="t">0.6</text>
<text x="236.5" y="46.6" text-anchor="end" class="t">0.8</text>
<text x="236.5" y="15.1" text-anchor="end" class="t">1.0</text>
<text x="323.7" y="193.9" class="k">K<tspan dy="3" font-size="7">s</tspan></text>
<text transform="translate(221.6 91.2) rotate(-90)" text-anchor="middle" class="k">q</text>
<text x="233.9" y="5.9" class="b">(b) SF-EXP &quot;AND&quot; random</text>
<clipPath id="cpc"><rect x="454.50" y="12.50" width="179.30" height="157.50"/></clipPath><g clip-path="url(#cpc)"><g filter="url(#bl)"><rect x="450.50" y="8.50" width="187.30" height="165.50" fill="#6a0089"/>
<g transform="translate(454.500 170.00) scale(9.4368 -157.50)"><rect x="-0.4239" y="-0.0254" width="1.551" height="1.051" fill="#cb0606"/></g>
<g transform="translate(463.937 170.00) scale(9.4368 -157.50)"><rect x="0" y="-0.0254" width="1.127" height="1.051" fill="#cb0606"/></g>
<g transform="translate(473.374 170.00) scale(9.4368 -157.50)"><rect x="0" y="0.02938" width="1.127" height="0.996" fill="#cb0606"/><rect x="0" y="-0.0254" width="1.127" height="0.0624" fill="url(#g5)"/></g>
<g transform="translate(482.811 170.00) scale(9.4368 -157.50)"><rect x="0" y="0.03838" width="1.127" height="0.987" fill="#cb0606"/><rect x="0" y="0.037" width="1.127" height="0.009" fill="url(#g5)"/></g>
<g transform="translate(492.247 170.00) scale(9.4368 -157.50)"><rect x="0" y="0.04038" width="1.127" height="0.985" fill="#cb0606"/><rect x="0" y="0.046" width="1.127" height="0.002" fill="url(#g5)"/></g>
<g transform="translate(501.684 170.00) scale(9.4368 -157.50)"><rect x="0" y="0.07838" width="1.127" height="0.947" fill="#cb0606"/><rect x="0" y="0.048" width="1.127" height="0.038" fill="url(#g5)"/></g>
<g transform="translate(511.121 170.00) scale(9.4368 -157.50)"><rect x="0" y="0.08838" width="1.127" height="0.937" fill="#cb0606"/><rect x="0" y="0.086" width="1.127" height="0.01" fill="url(#g5)"/></g>
<g transform="translate(520.558 170.00) scale(9.4368 -157.50)"><rect x="0" y="0.1894" width="1.127" height="0.836" fill="url(#g269)"/><rect x="0" y="0.096" width="1.127" height="0.101" fill="url(#g5)"/></g>
<g transform="translate(529.995 170.00) scale(9.4368 -157.50)"><rect x="0" y="0.2924" width="1.127" height="0.733" fill="url(#g270)"/><rect x="0" y="0.2374" width="1.127" height="0.06262" fill="url(#g271)"/><rect x="0" y="0.197" width="1.127" height="0.048" fill="url(#g272)"/></g>
<g transform="translate(539.432 170.00) scale(9.4368 -157.50)"><rect x="0" y="0.3704" width="1.127" height="0.655" fill="url(#g273)"/><rect x="0" y="0.2924" width="1.127" height="0.08562" fill="url(#g274)"/><rect x="0" y="0.2654" width="1.127" height="0.03462" fill="url(#g275)"/><rect x="0" y="0.245" width="1.127" height="0.028" fill="url(#g276)"/></g>
<g transform="translate(548.868 170.00) scale(9.4368 -157.50)"><rect x="0" y="0.4374" width="1.127" height="0.588" fill="url(#g277)"/><rect x="0" y="0.3704" width="1.127" height="0.07462" fill="url(#g278)"/><rect x="0" y="0.2924" width="1.127" height="0.08562" fill="url(#g279)"/><rect x="0" y="0.273" width="1.127" height="0.027" fill="url(#g280)"/></g>
<g transform="translate(558.305 170.00) scale(9.4368 -157.50)"><rect x="0" y="0.5084" width="1.127" height="0.517" fill="url(#g281)"/><rect x="0" y="0.4374" width="1.127" height="0.07862" fill="url(#g282)"/><rect x="0" y="0.3354" width="1.127" height="0.1096" fill="url(#g283)"/><rect x="0" y="0.3" width="1.127" height="0.043" fill="url(#g284)"/></g>
<g transform="translate(567.742 170.00) scale(9.4368 -157.50)"><rect x="0" y="0.5774" width="1.127" height="0.448" fill="url(#g285)"/><rect x="0" y="0.5084" width="1.127" height="0.07662" fill="url(#g286)"/><rect x="0" y="0.3664" width="1.127" height="0.1496" fill="url(#g287)"/><rect x="0" y="0.343" width="1.127" height="0.031" fill="url(#g288)"/></g>
<g transform="translate(577.179 170.00) scale(9.4368 -157.50)"><rect x="0" y="0.6484" width="1.127" height="0.377" fill="url(#g289)"/><rect x="0" y="0.5774" width="1.127" height="0.07862" fill="url(#g290)"/><rect x="0" y="0.4174" width="1.127" height="0.1676" fill="url(#g291)"/><rect x="0" y="0.374" width="1.127" height="0.051" fill="url(#g292)"/></g>
<g transform="translate(586.616 170.00) scale(9.4368 -157.50)"><rect x="0" y="0.7774" width="1.127" height="0.248" fill="url(#g293)"/><rect x="0" y="0.6484" width="1.127" height="0.1366" fill="url(#g294)"/><rect x="0" y="0.4784" width="1.127" height="0.1776" fill="url(#g295)"/><rect x="0" y="0.425" width="1.127" height="0.061" fill="url(#g296)"/></g>
<g transform="translate(596.053 170.00) scale(9.4368 -157.50)"><rect x="0" y="0.7774" width="1.127" height="0.248" fill="url(#g297)"/><rect x="0" y="0.6074" width="1.127" height="0.1776" fill="url(#g298)"/><rect x="0" y="0.486" width="1.127" height="0.129" fill="url(#g299)"/></g>
<g transform="translate(605.489 170.00) scale(9.4368 -157.50)"><rect x="0" y="0.7774" width="1.127" height="0.248" fill="url(#g300)"/><rect x="0" y="0.615" width="1.127" height="0.17" fill="url(#g301)"/></g></g></g>
<path d="M463.94 170.00v-2.3M463.94 12.50v2.3M473.37 170.00v-1.2M473.37 12.50v1.2M482.81 170.00v-2.3M482.81 12.50v2.3M492.25 170.00v-1.2M492.25 12.50v1.2M501.68 170.00v-2.3M501.68 12.50v2.3M511.12 170.00v-1.2M511.12 12.50v1.2M520.56 170.00v-2.3M520.56 12.50v2.3M529.99 170.00v-1.2M529.99 12.50v1.2M539.43 170.00v-2.3M539.43 12.50v2.3M548.87 170.00v-1.2M548.87 12.50v1.2M558.31 170.00v-2.3M558.31 12.50v2.3M567.74 170.00v-1.2M567.74 12.50v1.2M577.18 170.00v-2.3M577.18 12.50v2.3M586.62 170.00v-1.2M586.62 12.50v1.2M596.05 170.00v-2.3M596.05 12.50v2.3M605.49 170.00v-1.2M605.49 12.50v1.2M614.93 170.00v-2.3M614.93 12.50v2.3M624.36 170.00v-1.2M624.36 12.50v1.2M454.50 154.25h1.2M633.80 154.25h-1.2M454.50 138.50h2.3M633.80 138.50h-2.3M454.50 122.75h1.2M633.80 122.75h-1.2M454.50 107.00h2.3M633.80 107.00h-2.3M454.50 91.25h1.2M633.80 91.25h-1.2M454.50 75.50h2.3M633.80 75.50h-2.3M454.50 59.75h1.2M633.80 59.75h-1.2M454.50 44.00h2.3M633.80 44.00h-2.3M454.50 28.25h1.2M633.80 28.25h-1.2" stroke="#000" stroke-width="0.6" fill="none"/>
<rect x="454.50" y="12.50" width="179.30" height="157.50" fill="none" stroke="#000" stroke-opacity="0.6" stroke-width="0.5"/>
<text x="463.9" y="178.9" text-anchor="middle" class="t">2</text>
<text x="482.8" y="178.9" text-anchor="middle" class="t">4</text>
<text x="501.7" y="178.9" text-anchor="middle" class="t">6</text>
<text x="520.6" y="178.9" text-anchor="middle" class="t">8</text>
<text x="539.4" y="178.9" text-anchor="middle" class="t">10</text>
<text x="558.3" y="178.9" text-anchor="middle" class="t">12</text>
<text x="577.2" y="178.9" text-anchor="middle" class="t">14</text>
<text x="596.1" y="178.9" text-anchor="middle" class="t">16</text>
<text x="614.9" y="178.9" text-anchor="middle" class="t">18</text>
<text x="633.8" y="178.9" text-anchor="middle" class="t">20</text>
<text x="451.8" y="172.6" text-anchor="end" class="t">0.0</text>
<text x="451.8" y="141.1" text-anchor="end" class="t">0.2</text>
<text x="451.8" y="109.6" text-anchor="end" class="t">0.4</text>
<text x="451.8" y="78.1" text-anchor="end" class="t">0.6</text>
<text x="451.8" y="46.6" text-anchor="end" class="t">0.8</text>
<text x="451.8" y="15.1" text-anchor="end" class="t">1.0</text>
<text x="539.2" y="193.9" class="k">K<tspan dy="3" font-size="7">s</tspan></text>
<text transform="translate(436.9 91.2) rotate(-90)" text-anchor="middle" class="k">q</text>
<text x="449.2" y="5.9" class="b">(c) SF-EXP &quot;AND&quot; disassortative</text>
<clipPath id="cpd"><rect x="23.30" y="211.40" width="179.50" height="157.60"/></clipPath><g clip-path="url(#cpd)"><g filter="url(#bl)"><rect x="19.30" y="207.40" width="187.50" height="165.60" fill="#6a0089"/>
<g transform="translate(23.300 369.00) scale(9.4474 -157.60)"><rect x="-0.4234" y="0.3274" width="1.55" height="0.698" fill="url(#g302)"/><rect x="-0.4234" y="0.2399" width="1.55" height="0.09511" fill="url(#g133)"/><rect x="-0.4234" y="0.2204" width="1.55" height="0.02711" fill="url(#g4)"/><rect x="-0.4234" y="-0.02538" width="1.55" height="0.2534" fill="url(#g303)"/></g>
<g transform="translate(32.747 369.00) scale(9.4474 -157.60)"><rect x="0" y="0.3274" width="1.127" height="0.698" fill="url(#g304)"/><rect x="0" y="0.2399" width="1.127" height="0.09511" fill="url(#g305)"/><rect x="0" y="0.228" width="1.127" height="0.0195" fill="url(#g15)"/></g>
<g transform="translate(42.195 369.00) scale(9.4474 -157.60)"><rect x="0" y="0.3274" width="1.127" height="0.698" fill="url(#g306)"/><rect x="0" y="0.2475" width="1.127" height="0.0875" fill="url(#g307)"/></g>
<g transform="translate(51.642 369.00) scale(9.4474 -157.60)"><rect x="0" y="0.4274" width="1.127" height="0.598" fill="url(#g308)"/><rect x="0" y="0.335" width="1.127" height="0.1" fill="url(#g309)"/></g>
<g transform="translate(61.089 369.00) scale(9.4474 -157.60)"><rect x="0" y="0.5274" width="1.127" height="0.498" fill="url(#g310)"/><rect x="0" y="0.435" width="1.127" height="0.1" fill="url(#g311)"/></g>
<g transform="translate(70.537 369.00) scale(9.4474 -157.60)"><rect x="0" y="0.6224" width="1.127" height="0.403" fill="url(#g312)"/><rect x="0" y="0.535" width="1.127" height="0.095" fill="url(#g292)"/></g>
<g transform="translate(79.984 369.00) scale(9.4474 -157.60)"><rect x="0" y="0.6924" width="1.127" height="0.333" fill="url(#g313)"/><rect x="0" y="0.63" width="1.127" height="0.07" fill="url(#g132)"/></g>
<g transform="translate(89.432 369.00) scale(9.4474 -157.60)"><rect x="0" y="0.7624" width="1.127" height="0.263" fill="url(#g314)"/><rect x="0" y="0.7" width="1.127" height="0.07" fill="url(#g315)"/></g>
<g transform="translate(98.879 369.00) scale(9.4474 -157.60)"><rect x="0" y="0.9714" width="1.127" height="0.05399" fill="url(#g316)"/><rect x="0" y="0.9614" width="1.127" height="0.01761" fill="url(#g317)"/><rect x="0" y="0.9494" width="1.127" height="0.01961" fill="url(#g316)"/><rect x="0" y="0.9394" width="1.127" height="0.01761" fill="url(#g317)"/><rect x="0" y="0.9274" width="1.127" height="0.01961" fill="url(#g316)"/><rect x="0" y="0.9174" width="1.127" height="0.01761" fill="url(#g317)"/><rect x="0" y="0.9094" width="1.127" height="0.01561" fill="url(#g316)"/><rect x="0" y="0.8994" width="1.127" height="0.01761" fill="url(#g317)"/><rect x="0" y="0.77" width="1.127" height="0.137" fill="url(#g316)"/></g>
<g transform="translate(108.326 369.00) scale(9.4474 -157.60)"><rect x="0" y="0.969" width="1.127" height="0.01" fill="url(#g318)"/><rect x="0" y="0.947" width="1.127" height="0.01" fill="url(#g318)"/><rect x="0" y="0.925" width="1.127" height="0.01" fill="url(#g318)"/><rect x="0" y="0.907" width="1.127" height="0.01" fill="url(#g318)"/></g></g></g>
<path d="M32.75 369.00v-2.3M32.75 211.40v2.3M42.19 369.00v-1.2M42.19 211.40v1.2M51.64 369.00v-2.3M51.64 211.40v2.3M61.09 369.00v-1.2M61.09 211.40v1.2M70.54 369.00v-2.3M70.54 211.40v2.3M79.98 369.00v-1.2M79.98 211.40v1.2M89.43 369.00v-2.3M89.43 211.40v2.3M98.88 369.00v-1.2M98.88 211.40v1.2M108.33 369.00v-2.3M108.33 211.40v2.3M117.77 369.00v-1.2M117.77 211.40v1.2M127.22 369.00v-2.3M127.22 211.40v2.3M136.67 369.00v-1.2M136.67 211.40v1.2M146.12 369.00v-2.3M146.12 211.40v2.3M155.56 369.00v-1.2M155.56 211.40v1.2M165.01 369.00v-2.3M165.01 211.40v2.3M174.46 369.00v-1.2M174.46 211.40v1.2M183.91 369.00v-2.3M183.91 211.40v2.3M193.35 369.00v-1.2M193.35 211.40v1.2M23.30 353.24h1.2M202.80 353.24h-1.2M23.30 337.48h2.3M202.80 337.48h-2.3M23.30 321.72h1.2M202.80 321.72h-1.2M23.30 305.96h2.3M202.80 305.96h-2.3M23.30 290.20h1.2M202.80 290.20h-1.2M23.30 274.44h2.3M202.80 274.44h-2.3M23.30 258.68h1.2M202.80 258.68h-1.2M23.30 242.92h2.3M202.80 242.92h-2.3M23.30 227.16h1.2M202.80 227.16h-1.2" stroke="#000" stroke-width="0.6" fill="none"/>
<rect x="23.30" y="211.40" width="179.50" height="157.60" fill="none" stroke="#000" stroke-opacity="0.6" stroke-width="0.5"/>
<text x="32.7" y="377.9" text-anchor="middle" class="t">2</text>
<text x="51.6" y="377.9" text-anchor="middle" class="t">4</text>
<text x="70.5" y="377.9" text-anchor="middle" class="t">6</text>
<text x="89.4" y="377.9" text-anchor="middle" class="t">8</text>
<text x="108.3" y="377.9" text-anchor="middle" class="t">10</text>
<text x="127.2" y="377.9" text-anchor="middle" class="t">12</text>
<text x="146.1" y="377.9" text-anchor="middle" class="t">14</text>
<text x="165.0" y="377.9" text-anchor="middle" class="t">16</text>
<text x="183.9" y="377.9" text-anchor="middle" class="t">18</text>
<text x="202.8" y="377.9" text-anchor="middle" class="t">20</text>
<text x="20.6" y="371.6" text-anchor="end" class="t">0.0</text>
<text x="20.6" y="340.1" text-anchor="end" class="t">0.2</text>
<text x="20.6" y="308.6" text-anchor="end" class="t">0.4</text>
<text x="20.6" y="277.0" text-anchor="end" class="t">0.6</text>
<text x="20.6" y="245.5" text-anchor="end" class="t">0.8</text>
<text x="20.6" y="214.0" text-anchor="end" class="t">1.0</text>
<text x="108.2" y="392.9" class="k">K<tspan dy="3" font-size="7">s</tspan></text>
<text transform="translate(5.7 290.2) rotate(-90)" text-anchor="middle" class="k">q</text>
<text x="18.0" y="204.8" class="b">(d) SF-EXP &quot;OR&quot; assortative</text>
<clipPath id="cpe"><rect x="239.20" y="211.40" width="178.80" height="157.60"/></clipPath><g clip-path="url(#cpe)"><g filter="url(#bl)"><rect x="235.20" y="207.40" width="186.80" height="165.60" fill="#6a0089"/>
<g transform="translate(239.200 369.00) scale(9.4105 -157.60)"><rect x="-0.4251" y="0.4114" width="1.553" height="0.614" fill="url(#g319)"/><rect x="-0.4251" y="0.3274" width="1.553" height="0.09161" fill="url(#g320)"/><rect x="-0.4251" y="-0.02538" width="1.553" height="0.3604" fill="url(#g15)"/></g>
<g transform="translate(248.611 369.00) scale(9.4105 -157.60)"><rect x="0" y="0.4114" width="1.128" height="0.614" fill="url(#g321)"/><rect x="0" y="0.335" width="1.128" height="0.084" fill="url(#g322)"/></g>
<g transform="translate(258.021 369.00) scale(9.4105 -157.60)"><rect x="0" y="0.419" width="1.128" height="0.6064" fill="url(#g323)"/></g></g></g>
<path d="M248.61 369.00v-2.3M248.61 211.40v2.3M258.02 369.00v-1.2M258.02 211.40v1.2M267.43 369.00v-2.3M267.43 211.40v2.3M276.84 369.00v-1.2M276.84 211.40v1.2M286.25 369.00v-2.3M286.25 211.40v2.3M295.66 369.00v-1.2M295.66 211.40v1.2M305.07 369.00v-2.3M305.07 211.40v2.3M314.48 369.00v-1.2M314.48 211.40v1.2M323.89 369.00v-2.3M323.89 211.40v2.3M333.31 369.00v-1.2M333.31 211.40v1.2M342.72 369.00v-2.3M342.72 211.40v2.3M352.13 369.00v-1.2M352.13 211.40v1.2M361.54 369.00v-2.3M361.54 211.40v2.3M370.95 369.00v-1.2M370.95 211.40v1.2M380.36 369.00v-2.3M380.36 211.40v2.3M389.77 369.00v-1.2M389.77 211.40v1.2M399.18 369.00v-2.3M399.18 211.40v2.3M408.59 369.00v-1.2M408.59 211.40v1.2M239.20 353.24h1.2M418.00 353.24h-1.2M239.20 337.48h2.3M418.00 337.48h-2.3M239.20 321.72h1.2M418.00 321.72h-1.2M239.20 305.96h2.3M418.00 305.96h-2.3M239.20 290.20h1.2M418.00 290.20h-1.2M239.20 274.44h2.3M418.00 274.44h-2.3M239.20 258.68h1.2M418.00 258.68h-1.2M239.20 242.92h2.3M418.00 242.92h-2.3M239.20 227.16h1.2M418.00 227.16h-1.2" stroke="#000" stroke-width="0.6" fill="none"/>
<rect x="239.20" y="211.40" width="178.80" height="157.60" fill="none" stroke="#000" stroke-opacity="0.6" stroke-width="0.5"/>
<text x="248.6" y="377.9" text-anchor="middle" class="t">2</text>
<text x="267.4" y="377.9" text-anchor="middle" class="t">4</text>
<text x="286.3" y="377.9" text-anchor="middle" class="t">6</text>
<text x="305.1" y="377.9" text-anchor="middle" class="t">8</text>
<text x="323.9" y="377.9" text-anchor="middle" class="t">10</text>
<text x="342.7" y="377.9" text-anchor="middle" class="t">12</text>
<text x="361.5" y="377.9" text-anchor="middle" class="t">14</text>
<text x="380.4" y="377.9" text-anchor="middle" class="t">16</text>
<text x="399.2" y="377.9" text-anchor="middle" class="t">18</text>
<text x="418.0" y="377.9" text-anchor="middle" class="t">20</text>
<text x="236.5" y="371.6" text-anchor="end" class="t">0.0</text>
<text x="236.5" y="340.1" text-anchor="end" class="t">0.2</text>
<text x="236.5" y="308.6" text-anchor="end" class="t">0.4</text>
<text x="236.5" y="277.0" text-anchor="end" class="t">0.6</text>
<text x="236.5" y="245.5" text-anchor="end" class="t">0.8</text>
<text x="236.5" y="214.0" text-anchor="end" class="t">1.0</text>
<text x="323.7" y="392.9" class="k">K<tspan dy="3" font-size="7">s</tspan></text>
<text transform="translate(221.6 290.2) rotate(-90)" text-anchor="middle" class="k">q</text>
<text x="233.9" y="204.8" class="b">(e) SF-EXP &quot;OR&quot; random</text>
<clipPath id="cpf"><rect x="454.50" y="211.40" width="179.30" height="157.60"/></clipPath><g clip-path="url(#cpf)"><g filter="url(#bl)"><rect x="450.50" y="207.40" width="187.30" height="165.60" fill="#6a0089"/>
<g transform="translate(454.500 369.00) scale(9.4368 -157.60)"><rect x="-0.4239" y="0.5974" width="1.551" height="0.428" fill="url(#g324)"/><rect x="-0.4239" y="-0.02538" width="1.551" height="0.6304" fill="url(#g15)"/></g>
<g transform="translate(463.937 369.00) scale(9.4368 -157.60)"><rect x="0" y="0.605" width="1.127" height="0.4204" fill="url(#g325)"/></g></g></g>
<path d="M463.94 369.00v-2.3M463.94 211.40v2.3M473.37 369.00v-1.2M473.37 211.40v1.2M482.81 369.00v-2.3M482.81 211.40v2.3M492.25 369.00v-1.2M492.25 211.40v1.2M501.68 369.00v-2.3M501.68 211.40v2.3M511.12 369.00v-1.2M511.12 211.40v1.2M520.56 369.00v-2.3M520.56 211.40v2.3M529.99 369.00v-1.2M529.99 211.40v1.2M539.43 369.00v-2.3M539.43 211.40v2.3M548.87 369.00v-1.2M548.87 211.40v1.2M558.31 369.00v-2.3M558.31 211.40v2.3M567.74 369.00v-1.2M567.74 211.40v1.2M577.18 369.00v-2.3M577.18 211.40v2.3M586.62 369.00v-1.2M586.62 211.40v1.2M596.05 369.00v-2.3M596.05 211.40v2.3M605.49 369.00v-1.2M605.49 211.40v1.2M614.93 369.00v-2.3M614.93 211.40v2.3M624.36 369.00v-1.2M624.36 211.40v1.2M454.50 353.24h1.2M633.80 353.24h-1.2M454.50 337.48h2.3M633.80 337.48h-2.3M454.50 321.72h1.2M633.80 321.72h-1.2M454.50 305.96h2.3M633.80 305.96h-2.3M454.50 290.20h1.2M633.80 290.20h-1.2M454.50 274.44h2.3M633.80 274.44h-2.3M454.50 258.68h1.2M633.80 258.68h-1.2M454.50 242.92h2.3M633.80 242.92h-2.3M454.50 227.16h1.2M633.80 227.16h-1.2" stroke="#000" stroke-width="0.6" fill="none"/>
<rect x="454.50" y="211.40" width="179.30" height="157.60" fill="none" stroke="#000" stroke-opacity="0.6" stroke-width="0.5"/>
<text x="463.9" y="377.9" text-anchor="middle" class="t">2</text>
<text x="482.8" y="377.9" text-anchor="middle" class="t">4</text>
<text x="501.7" y="377.9" text-anchor="middle" class="t">6</text>
<text x="520.6" y="377.9" text-anchor="middle" class="t">8</text>
<text x="539.4" y="377.9" text-anchor="middle" class="t">10</text>
<text x="558.3" y="377.9" text-anchor="middle" class="t">12</text>
<text x="577.2" y="377.9" text-anchor="middle" class="t">14</text>
<text x="596.1" y="377.9" text-anchor="middle" class="t">16</text>
<text x="614.9" y="377.9" text-anchor="middle" class="t">18</text>
<text x="633.8" y="377.9" text-anchor="middle" class="t">20</text>
<text x="451.8" y="371.6" text-anchor="end" class="t">0.0</text>
<text x="451.8" y="340.1" text-anchor="end" class="t">0.2</text>
<text x="451.8" y="308.6" text-anchor="end" class="t">0.4</text>
<text x="451.8" y="277.0" text-anchor="end" class="t">0.6</text>
<text x="451.8" y="245.5" text-anchor="end" class="t">0.8</text>
<text x="451.8" y="214.0" text-anchor="end" class="t">1.0</text>
<text x="539.2" y="392.9" class="k">K<tspan dy="3" font-size="7">s</tspan></text>
<text transform="translate(436.9 290.2) rotate(-90)" text-anchor="middle" class="k">q</text>
<text x="449.2" y="204.8" class="b">(f) SF-EXP &quot;OR&quot; disassortative</text>
<linearGradient id="cb1" x1="0" y1="0" x2="0" y2="1"><stop offset="0.0000" stop-color="#cb0606"/><stop offset="0.0215" stop-color="#cb0606"/><stop offset="0.2608" stop-color="#c8ff73"/><stop offset="0.5000" stop-color="#00f56e"/><stop offset="0.7392" stop-color="#6efffa"/><stop offset="0.9785" stop-color="#6a0089"/><stop offset="1.0000" stop-color="#6a0089"/></linearGradient>
<rect x="656.50" y="12.30" width="9.10" height="157.90" fill="url(#cb1)" stroke="#808080" stroke-width="0.6"/>
<text x="667.4" y="17.8" class="c">1.000</text>
<text x="667.4" y="36.7" class="c">0.8750</text>
<text x="667.4" y="55.6" class="c">0.7500</text>
<text x="667.4" y="74.5" class="c">0.6250</text>
<text x="667.4" y="93.3" class="c">0.5000</text>
<text x="667.4" y="112.2" class="c">0.3750</text>
<text x="667.4" y="131.1" class="c">0.2500</text>
<text x="667.4" y="150.0" class="c">0.1250</text>
<text x="667.4" y="168.9" class="c">0.000</text>
<linearGradient id="cb2" x1="0" y1="0" x2="0" y2="1"><stop offset="0.0000" stop-color="#cb0606"/><stop offset="0.0215" stop-color="#cb0606"/><stop offset="0.2608" stop-color="#c8ff73"/><stop offset="0.5000" stop-color="#00f56e"/><stop offset="0.7392" stop-color="#6efffa"/><stop offset="0.9785" stop-color="#6a0089"/><stop offset="1.0000" stop-color="#6a0089"/></linearGradient>
<rect x="656.50" y="211.50" width="9.10" height="157.80" fill="url(#cb2)" stroke="#808080" stroke-width="0.6"/>
<text x="667.4" y="217.0" class="c">1.000</text>
<text x="667.4" y="235.9" class="c">0.8750</text>
<text x="667.4" y="254.8" class="c">0.7500</text>
<text x="667.4" y="273.6" class="c">0.6250</text>
<text x="667.4" y="292.5" class="c">0.5000</text>
<text x="667.4" y="311.4" class="c">0.3750</text>
<text x="667.4" y="330.3" class="c">0.2500</text>
<text x="667.4" y="349.1" class="c">0.1250</text>
<text x="667.4" y="368.0" class="c">0.000</text>
</svg>
</body></html>
